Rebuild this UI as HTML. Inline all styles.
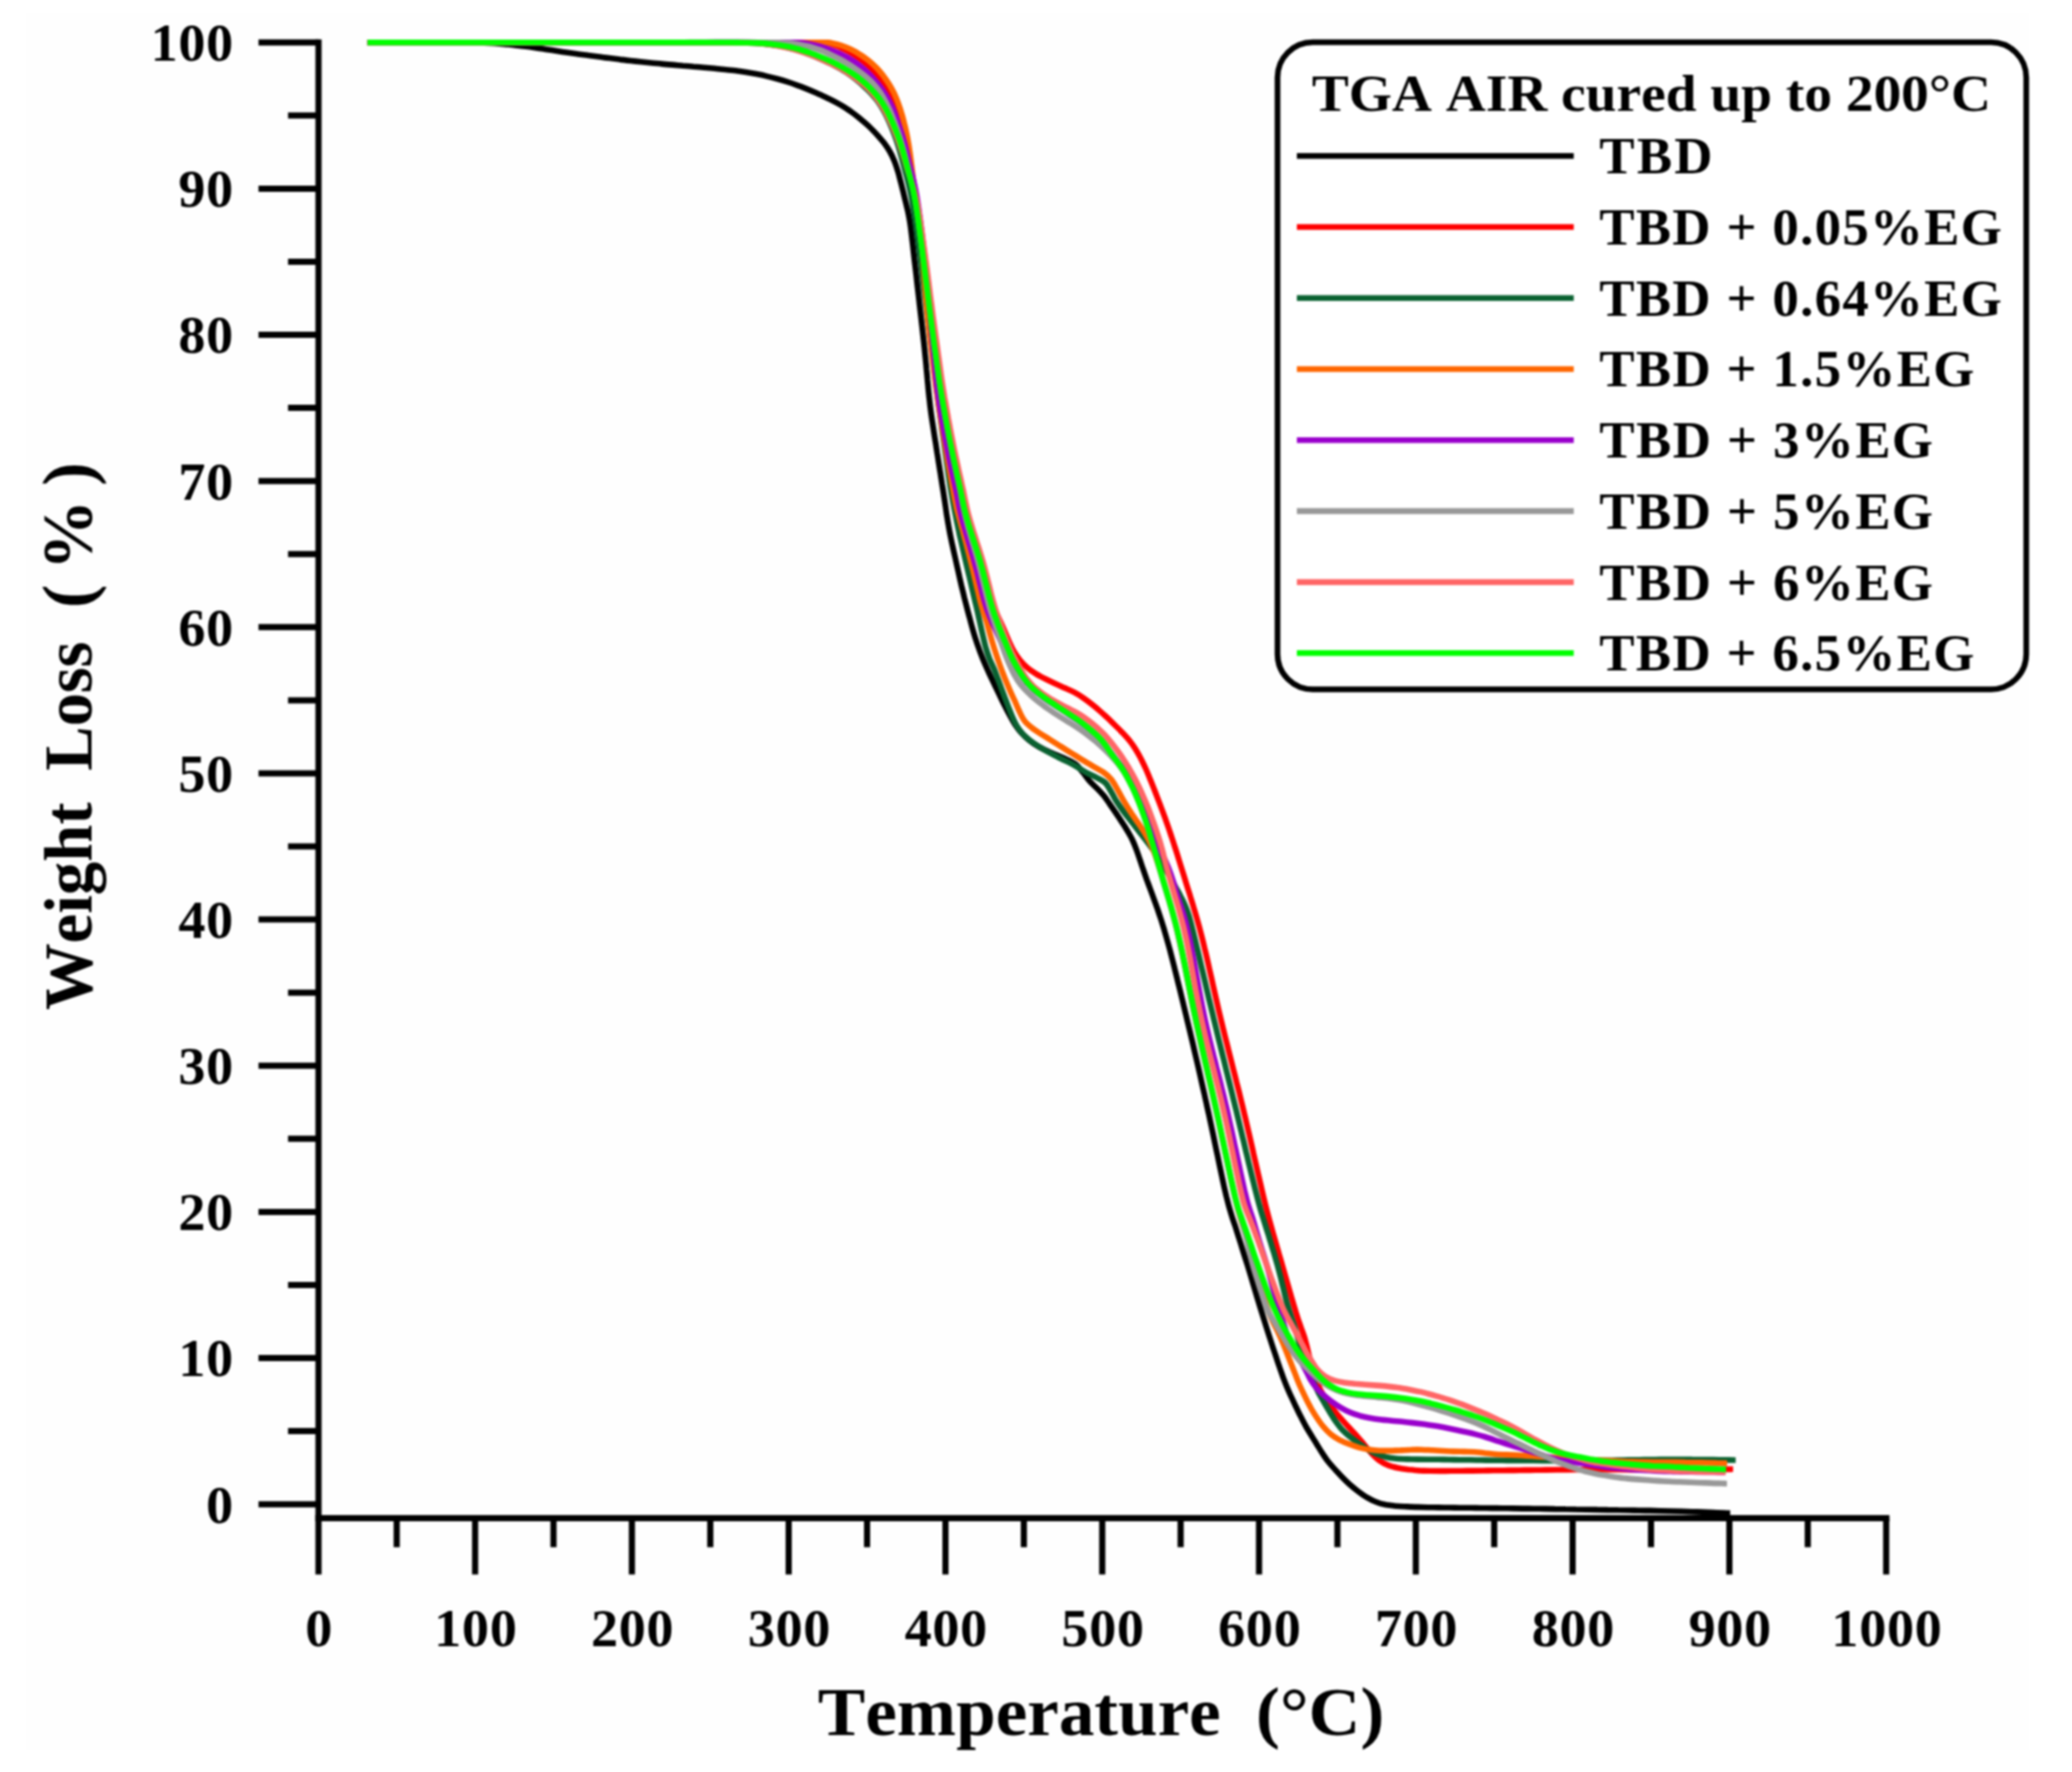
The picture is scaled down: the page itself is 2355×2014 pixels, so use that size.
<!DOCTYPE html>
<html lang="en"><head><meta charset="utf-8"><title>TGA AIR cured up to 200°C</title>
<style>
html,body{margin:0;padding:0;background:#fff;}
body{width:2355px;height:2014px;overflow:hidden;}
svg{display:block;filter:blur(1.1px);}
text{font-family:"Liberation Serif",serif;font-weight:bold;fill:#000;font-kerning:none;}
.tk{font-size:61.5px;letter-spacing:0.8px;}
.lg{font-size:60px;}
.ti{font-size:78px;}
.tp{font-size:80px;}
.ax{stroke:#000;stroke-width:7;fill:none;stroke-linecap:butt;}
.cv{fill:none;stroke-width:6.6;stroke-linecap:butt;stroke-linejoin:round;}
</style></head><body>
<svg width="2355" height="2014" viewBox="0 0 2355 2014" role="img" aria-label="TGA weight loss versus temperature">
<rect width="2355" height="2014" fill="#fff"/>
<rect x="30" y="15" width="2276" height="1974" fill="#fefefe"/>
<g>
<g id="curves">
<path class="cv" stroke="#000000" d="M417.8 48.2C419.8 48.2 425.8 48.2 429.8 48.2C433.8 48.2 437.8 48.2 441.8 48.2C445.8 48.2 449.8 48.2 453.8 48.2C457.8 48.2 461.8 48.2 465.8 48.2C469.8 48.2 473.8 48.2 477.8 48.2C481.8 48.2 485.8 48.2 489.8 48.2C493.8 48.2 497.8 48.2 501.8 48.2C505.8 48.2 509.8 48.2 513.8 48.2C517.8 48.2 521.8 48.2 525.8 48.3C529.8 48.3 533.8 48.3 537.8 48.4C541.8 48.5 545.8 48.5 549.8 48.7C553.8 48.8 557.8 49.0 561.8 49.3C565.8 49.6 569.8 49.9 573.7 50.2C577.7 50.6 581.7 50.9 585.7 51.4C589.7 51.8 593.6 52.2 597.6 52.7C601.6 53.2 605.5 53.8 609.5 54.4C613.5 54.9 617.4 55.6 621.4 56.2C625.3 56.8 629.3 57.4 633.2 58.0C637.2 58.6 641.1 59.2 645.1 59.8C649.0 60.3 653.0 60.9 657.0 61.4C660.9 61.9 664.9 62.5 668.9 63.0C672.8 63.5 676.8 64.0 680.8 64.5C684.7 65.1 688.7 65.6 692.7 66.1C696.6 66.6 700.6 67.1 704.6 67.6C708.5 68.0 712.5 68.5 716.5 69.0C720.5 69.4 724.4 69.9 728.4 70.3C732.4 70.7 736.4 71.1 740.4 71.5C744.3 71.9 748.3 72.2 752.3 72.6C756.3 73.0 760.3 73.3 764.3 73.6C768.2 74.0 772.2 74.3 776.2 74.7C780.2 75.0 784.2 75.3 788.2 75.7C792.2 76.0 796.1 76.3 800.1 76.7C804.1 77.1 808.1 77.4 812.1 77.8C816.1 78.2 820.0 78.5 824.0 79.0C828.0 79.4 832.0 79.8 835.9 80.3C839.9 80.8 843.9 81.4 847.8 82.0C851.8 82.6 855.7 83.3 859.6 84.1C863.6 84.9 867.5 85.7 871.4 86.6C875.3 87.5 879.2 88.5 883.0 89.5C886.9 90.6 890.7 91.7 894.5 92.9C898.3 94.1 902.1 95.4 905.9 96.8C909.6 98.1 913.4 99.6 917.1 101.1C920.8 102.6 924.5 104.2 928.1 105.8C931.8 107.4 935.4 109.1 939.0 110.8C942.6 112.6 946.2 114.3 949.7 116.2C953.3 118.1 956.8 120.0 960.2 122.1C963.5 124.2 966.8 126.6 970.0 128.9C973.2 131.3 976.3 133.9 979.4 136.4C982.4 139.0 985.5 141.6 988.4 144.3C991.3 147.1 994.0 150.0 996.7 152.9C999.4 155.9 1002.1 158.9 1004.5 162.1C1006.9 165.3 1009.2 168.5 1011.2 172.0C1013.2 175.4 1014.9 179.1 1016.4 182.8C1017.9 186.4 1019.1 190.3 1020.3 194.1C1021.5 197.9 1022.4 201.8 1023.4 205.7C1024.5 209.5 1025.4 213.4 1026.4 217.3C1027.3 221.2 1028.2 225.1 1029.2 229.0C1030.1 232.8 1031.1 236.7 1032.0 240.6C1032.8 244.5 1033.6 248.4 1034.2 252.4C1034.9 256.3 1035.3 260.3 1035.8 264.3C1036.3 268.2 1036.7 272.2 1037.2 276.2C1037.6 280.2 1038.1 284.1 1038.5 288.1C1039.0 292.1 1039.4 296.1 1039.9 300.0C1040.4 304.0 1040.8 308.0 1041.3 311.9C1041.7 315.9 1042.2 319.9 1042.6 323.9C1043.1 327.8 1043.5 331.8 1044.0 335.8C1044.4 339.8 1044.9 343.7 1045.3 347.7C1045.8 351.7 1046.2 355.7 1046.7 359.6C1047.2 363.6 1047.6 367.6 1048.1 371.6C1048.5 375.5 1049.0 379.5 1049.4 383.5C1049.9 387.5 1050.3 391.4 1050.7 395.4C1051.1 399.4 1051.5 403.4 1051.9 407.4C1052.3 411.3 1052.7 415.3 1053.0 419.3C1053.4 423.3 1053.8 427.3 1054.1 431.3C1054.5 435.2 1054.9 439.2 1055.2 443.2C1055.6 447.2 1056.0 451.2 1056.5 455.1C1056.9 459.1 1057.4 463.1 1057.9 467.0C1058.4 471.0 1059.0 475.0 1059.6 478.9C1060.2 482.9 1060.8 486.8 1061.4 490.8C1062.0 494.7 1062.6 498.7 1063.3 502.6C1063.9 506.6 1064.5 510.5 1065.1 514.5C1065.8 518.5 1066.4 522.4 1067.0 526.4C1067.6 530.3 1068.2 534.3 1068.9 538.2C1069.5 542.2 1070.1 546.1 1070.7 550.1C1071.4 554.0 1072.0 558.0 1072.6 561.9C1073.2 565.9 1073.8 569.8 1074.4 573.8C1075.0 577.7 1075.5 581.7 1076.1 585.7C1076.8 589.6 1077.4 593.6 1078.1 597.5C1078.8 601.4 1079.5 605.4 1080.3 609.3C1081.1 613.2 1081.9 617.1 1082.8 621.0C1083.6 624.9 1084.5 628.8 1085.4 632.7C1086.2 636.6 1087.1 640.5 1088.0 644.5C1088.9 648.4 1089.8 652.3 1090.6 656.2C1091.5 660.1 1092.4 664.0 1093.3 667.9C1094.3 671.7 1095.2 675.6 1096.1 679.5C1097.1 683.4 1098.1 687.3 1099.1 691.1C1100.1 695.0 1101.1 698.9 1102.2 702.7C1103.2 706.6 1104.2 710.5 1105.3 714.3C1106.4 718.2 1107.5 722.0 1108.7 725.8C1109.9 729.6 1111.2 733.4 1112.6 737.2C1113.9 741.0 1115.4 744.7 1116.9 748.4C1118.4 752.1 1120.0 755.8 1121.6 759.4C1123.2 763.1 1124.9 766.7 1126.6 770.3C1128.3 773.9 1130.0 777.6 1131.8 781.2C1133.5 784.8 1135.2 788.4 1137.0 792.0C1138.7 795.6 1140.5 799.2 1142.3 802.7C1144.1 806.3 1145.9 809.8 1147.9 813.4C1149.8 816.9 1151.6 820.4 1153.8 823.8C1156.0 827.1 1158.4 830.3 1161.1 833.2C1163.7 836.2 1166.7 838.9 1169.8 841.3C1172.9 843.8 1176.3 846.1 1179.7 848.1C1183.1 850.2 1186.7 851.9 1190.3 853.6C1193.9 855.3 1197.6 856.8 1201.3 858.4C1205.0 860.0 1208.8 861.3 1212.4 863.1C1215.9 864.8 1219.7 866.5 1222.7 868.9C1225.8 871.3 1228.1 874.5 1230.6 877.6C1233.2 880.6 1235.2 884.1 1237.8 887.1C1240.4 890.1 1243.5 892.6 1246.3 895.5C1249.1 898.3 1251.9 901.2 1254.4 904.2C1256.9 907.3 1259.1 910.7 1261.4 914.0C1263.7 917.3 1266.0 920.6 1268.2 923.9C1270.4 927.2 1272.7 930.5 1274.8 933.9C1277.0 937.2 1279.2 940.6 1281.2 944.0C1283.2 947.5 1285.3 950.9 1287.0 954.5C1288.7 958.1 1290.2 961.9 1291.6 965.6C1293.0 969.3 1294.2 973.1 1295.5 976.9C1296.8 980.7 1298.0 984.5 1299.4 988.3C1300.7 992.1 1302.0 995.9 1303.3 999.6C1304.7 1003.4 1306.1 1007.1 1307.5 1010.9C1308.9 1014.6 1310.3 1018.4 1311.6 1022.1C1313.0 1025.9 1314.3 1029.7 1315.7 1033.4C1317.0 1037.2 1318.2 1041.0 1319.5 1044.8C1320.7 1048.6 1321.9 1052.4 1323.1 1056.3C1324.2 1060.1 1325.3 1063.9 1326.4 1067.8C1327.5 1071.6 1328.5 1075.5 1329.6 1079.4C1330.6 1083.2 1331.6 1087.1 1332.6 1091.0C1333.6 1094.9 1334.6 1098.7 1335.5 1102.6C1336.5 1106.5 1337.5 1110.4 1338.4 1114.3C1339.4 1118.1 1340.3 1122.0 1341.3 1125.9C1342.2 1129.8 1343.2 1133.7 1344.1 1137.6C1345.0 1141.5 1346.0 1145.4 1346.9 1149.2C1347.8 1153.1 1348.8 1157.0 1349.7 1160.9C1350.7 1164.8 1351.6 1168.7 1352.5 1172.6C1353.4 1176.5 1354.4 1180.4 1355.3 1184.3C1356.2 1188.2 1357.1 1192.1 1358.0 1195.9C1358.9 1199.8 1359.8 1203.7 1360.7 1207.6C1361.6 1211.5 1362.5 1215.4 1363.4 1219.3C1364.3 1223.2 1365.1 1227.1 1366.0 1231.0C1366.9 1234.9 1367.8 1238.8 1368.7 1242.7C1369.5 1246.7 1370.4 1250.6 1371.3 1254.5C1372.1 1258.4 1373.0 1262.3 1373.9 1266.2C1374.7 1270.1 1375.5 1274.0 1376.4 1277.9C1377.2 1281.8 1378.0 1285.7 1378.9 1289.7C1379.7 1293.6 1380.5 1297.5 1381.3 1301.4C1382.1 1305.3 1382.9 1309.2 1383.8 1313.1C1384.6 1317.1 1385.4 1321.0 1386.2 1324.9C1387.0 1328.8 1387.9 1332.7 1388.7 1336.6C1389.5 1340.5 1390.4 1344.5 1391.2 1348.4C1392.1 1352.3 1393.0 1356.2 1393.9 1360.0C1394.9 1363.9 1395.9 1367.8 1396.9 1371.7C1398.0 1375.5 1399.2 1379.3 1400.4 1383.2C1401.6 1387.0 1402.9 1390.7 1404.2 1394.5C1405.4 1398.3 1406.6 1402.2 1407.8 1406.0C1409.1 1409.8 1410.2 1413.6 1411.4 1417.4C1412.6 1421.2 1413.8 1425.0 1415.0 1428.9C1416.2 1432.7 1417.4 1436.5 1418.6 1440.3C1419.8 1444.2 1420.9 1448.0 1422.1 1451.8C1423.2 1455.6 1424.3 1459.5 1425.5 1463.3C1426.6 1467.1 1427.8 1471.0 1428.9 1474.8C1430.1 1478.6 1431.3 1482.5 1432.4 1486.3C1433.6 1490.1 1434.8 1493.9 1436.0 1497.7C1437.2 1501.6 1438.4 1505.4 1439.6 1509.2C1440.8 1513.0 1442.0 1516.8 1443.2 1520.6C1444.4 1524.4 1445.7 1528.2 1446.9 1532.0C1448.2 1535.8 1449.5 1539.6 1450.8 1543.4C1452.0 1547.2 1453.3 1551.0 1454.6 1554.8C1456.0 1558.5 1457.2 1562.3 1458.6 1566.1C1460.0 1569.8 1461.5 1573.6 1463.0 1577.2C1464.6 1580.9 1466.2 1584.6 1467.9 1588.2C1469.6 1591.8 1471.3 1595.4 1473.0 1599.1C1474.8 1602.7 1476.5 1606.3 1478.3 1609.8C1480.1 1613.4 1481.9 1617.0 1483.9 1620.5C1485.8 1624.0 1487.9 1627.4 1490.0 1630.8C1492.0 1634.2 1494.2 1637.6 1496.3 1641.0C1498.4 1644.4 1500.4 1647.9 1502.6 1651.2C1504.8 1654.5 1507.0 1657.9 1509.4 1661.0C1511.9 1664.2 1514.6 1667.1 1517.3 1670.1C1520.0 1673.0 1522.7 1676.0 1525.5 1678.8C1528.3 1681.7 1531.1 1684.5 1534.1 1687.2C1537.1 1689.8 1540.2 1692.4 1543.4 1694.8C1546.6 1697.2 1549.8 1699.6 1553.2 1701.6C1556.6 1703.6 1560.2 1705.6 1563.9 1707.0C1567.5 1708.5 1571.4 1709.5 1575.3 1710.3C1579.2 1711.0 1583.2 1711.3 1587.2 1711.7C1591.2 1712.1 1595.2 1712.2 1599.2 1712.4C1603.2 1712.6 1607.2 1712.8 1611.2 1712.9C1615.2 1713.0 1619.2 1713.1 1623.2 1713.2C1627.2 1713.3 1631.2 1713.3 1635.2 1713.4C1639.2 1713.4 1643.2 1713.5 1647.2 1713.5C1651.2 1713.6 1655.2 1713.6 1659.2 1713.7C1663.2 1713.7 1667.2 1713.8 1671.2 1713.8C1675.2 1713.9 1679.2 1713.9 1683.2 1714.0C1687.2 1714.0 1691.2 1714.1 1695.2 1714.1C1699.2 1714.1 1703.2 1714.2 1707.2 1714.2C1711.2 1714.3 1715.2 1714.3 1719.2 1714.4C1723.2 1714.4 1727.2 1714.5 1731.2 1714.6C1735.2 1714.6 1739.2 1714.7 1743.2 1714.7C1747.2 1714.8 1751.2 1714.8 1755.2 1714.9C1759.2 1714.9 1763.2 1715.0 1767.2 1715.1C1771.2 1715.1 1775.2 1715.2 1779.2 1715.3C1783.2 1715.3 1787.2 1715.4 1791.2 1715.5C1795.2 1715.5 1799.2 1715.6 1803.2 1715.7C1807.2 1715.7 1811.2 1715.8 1815.2 1715.9C1819.2 1715.9 1823.2 1716.0 1827.2 1716.1C1831.2 1716.1 1835.2 1716.2 1839.2 1716.3C1843.2 1716.3 1847.2 1716.4 1851.2 1716.5C1855.2 1716.6 1859.1 1716.6 1863.1 1716.7C1867.1 1716.8 1871.1 1716.9 1875.1 1716.9C1879.1 1717.0 1883.1 1717.1 1887.1 1717.2C1891.1 1717.3 1895.1 1717.4 1899.1 1717.5C1903.1 1717.6 1907.1 1717.7 1911.1 1717.8C1915.1 1717.9 1919.1 1718.1 1923.1 1718.2C1927.1 1718.3 1931.1 1718.5 1935.1 1718.6C1939.1 1718.8 1943.1 1718.9 1947.1 1719.1C1951.1 1719.2 1955.8 1719.4 1959.0 1719.5C1962.2 1719.6 1965.2 1719.8 1966.5 1719.8"/>
<path class="cv" stroke="#ff0000" d="M417.8 48.2C419.8 48.2 425.8 48.2 429.8 48.2C433.8 48.2 437.8 48.2 441.8 48.2C445.8 48.2 449.8 48.2 453.8 48.2C457.8 48.2 461.8 48.2 465.8 48.2C469.8 48.2 473.8 48.2 477.8 48.2C481.8 48.2 485.8 48.2 489.8 48.2C493.8 48.2 497.8 48.2 501.8 48.2C505.8 48.2 509.8 48.2 513.8 48.2C517.8 48.2 521.8 48.2 525.8 48.2C529.8 48.2 533.8 48.2 537.8 48.2C541.8 48.2 545.8 48.2 549.8 48.2C553.8 48.2 557.8 48.2 561.8 48.2C565.8 48.2 569.8 48.2 573.8 48.2C577.8 48.2 581.8 48.2 585.8 48.2C589.8 48.2 593.8 48.2 597.8 48.2C601.8 48.2 605.8 48.2 609.8 48.2C613.8 48.2 617.8 48.2 621.8 48.2C625.8 48.2 629.8 48.2 633.8 48.2C637.8 48.2 641.8 48.2 645.8 48.2C649.8 48.2 653.8 48.2 657.8 48.2C661.8 48.2 665.8 48.2 669.8 48.2C673.8 48.2 677.8 48.2 681.8 48.2C685.8 48.2 689.8 48.2 693.8 48.2C697.8 48.2 701.8 48.2 705.8 48.2C709.8 48.2 713.8 48.2 717.8 48.2C721.8 48.2 725.8 48.2 729.8 48.2C733.8 48.2 737.8 48.2 741.8 48.2C745.8 48.2 749.8 48.2 753.8 48.2C757.8 48.2 761.8 48.2 765.8 48.2C769.8 48.2 773.8 48.2 777.8 48.2C781.8 48.2 785.8 48.2 789.8 48.2C793.8 48.2 797.8 48.2 801.8 48.2C805.8 48.2 809.8 48.2 813.8 48.2C817.8 48.2 821.8 48.2 825.8 48.2C829.8 48.2 833.8 48.2 837.8 48.2C841.8 48.2 845.8 48.2 849.8 48.2C853.8 48.2 857.8 48.2 861.8 48.2C865.8 48.2 869.8 48.2 873.8 48.2C877.8 48.2 881.8 48.2 885.8 48.2C889.8 48.2 893.8 48.2 897.8 48.2C901.8 48.2 905.8 48.2 909.8 48.2C913.8 48.2 917.9 48.2 921.8 48.2C925.7 48.2 930.6 48.2 933.5 48.2C936.3 48.3 937.4 48.1 939.1 48.4C940.8 48.7 941.2 48.9 943.8 49.7C946.4 50.6 951.0 52.0 954.6 53.6C958.2 55.1 961.8 57.0 965.3 59.0C968.8 61.0 972.2 63.1 975.4 65.4C978.7 67.7 981.9 70.1 984.9 72.7C987.9 75.3 990.8 78.1 993.5 81.1C996.2 84.0 998.7 87.2 1001.0 90.4C1003.4 93.6 1005.6 97.0 1007.6 100.4C1009.6 103.9 1011.4 107.4 1013.1 111.0C1014.8 114.7 1016.3 118.4 1017.7 122.1C1019.1 125.9 1020.3 129.7 1021.5 133.5C1022.7 137.3 1023.8 141.1 1024.9 145.0C1026.0 148.8 1027.0 152.7 1028.0 156.6C1028.9 160.5 1029.8 164.4 1030.6 168.3C1031.4 172.2 1032.2 176.1 1033.0 180.1C1033.8 184.0 1034.5 187.9 1035.3 191.8C1036.1 195.7 1037.0 199.7 1037.7 203.6C1038.5 207.5 1039.2 211.4 1039.9 215.4C1040.6 219.3 1041.3 223.3 1041.9 227.2C1042.6 231.2 1043.2 235.1 1043.8 239.1C1044.4 243.0 1045.0 247.0 1045.6 250.9C1046.2 254.9 1046.8 258.8 1047.3 262.8C1047.8 266.8 1048.4 270.7 1048.9 274.7C1049.4 278.7 1050.0 282.6 1050.5 286.6C1051.0 290.6 1051.5 294.5 1052.0 298.5C1052.5 302.5 1053.0 306.4 1053.5 310.4C1054.0 314.4 1054.5 318.3 1055.0 322.3C1055.5 326.3 1055.9 330.3 1056.4 334.2C1056.9 338.2 1057.4 342.2 1057.9 346.1C1058.4 350.1 1058.9 354.1 1059.4 358.0C1059.9 362.0 1060.5 366.0 1061.0 369.9C1061.5 373.9 1062.0 377.9 1062.5 381.8C1063.1 385.8 1063.6 389.8 1064.1 393.7C1064.7 397.7 1065.2 401.7 1065.8 405.6C1066.3 409.6 1066.9 413.5 1067.4 417.5C1068.0 421.5 1068.5 425.4 1069.1 429.4C1069.7 433.3 1070.3 437.3 1070.9 441.2C1071.5 445.2 1072.2 449.1 1072.8 453.1C1073.5 457.0 1074.2 461.0 1074.9 464.9C1075.6 468.9 1076.3 472.8 1077.0 476.7C1077.8 480.7 1078.5 484.6 1079.2 488.5C1080.0 492.4 1080.7 496.4 1081.5 500.3C1082.3 504.2 1083.1 508.1 1083.9 512.1C1084.7 516.0 1085.5 519.9 1086.3 523.8C1087.2 527.7 1088.0 531.6 1088.9 535.5C1089.8 539.4 1090.7 543.3 1091.5 547.2C1092.4 551.1 1093.3 555.0 1094.1 559.0C1094.9 562.9 1095.6 566.8 1096.5 570.7C1097.3 574.6 1098.1 578.6 1099.1 582.4C1100.0 586.3 1101.2 590.1 1102.3 594.0C1103.4 597.8 1104.6 601.6 1105.8 605.5C1107.0 609.3 1108.2 613.1 1109.5 616.9C1110.7 620.7 1111.9 624.5 1113.1 628.3C1114.3 632.1 1115.5 636.0 1116.6 639.8C1117.7 643.6 1118.7 647.5 1119.8 651.4C1120.8 655.2 1121.8 659.1 1122.8 663.0C1123.8 666.9 1124.8 670.7 1125.8 674.6C1126.8 678.5 1127.8 682.4 1129.0 686.2C1130.2 690.0 1131.4 693.8 1132.9 697.5C1134.4 701.2 1136.3 704.7 1137.9 708.4C1139.6 712.0 1141.1 715.7 1142.7 719.4C1144.3 723.0 1145.7 726.8 1147.4 730.4C1149.1 734.0 1150.7 737.7 1152.8 741.1C1154.8 744.5 1157.1 747.8 1159.7 750.8C1162.2 753.9 1165.1 756.8 1168.1 759.3C1171.1 761.9 1174.5 764.0 1177.9 766.1C1181.3 768.2 1184.9 770.0 1188.5 771.8C1192.0 773.6 1195.6 775.3 1199.3 777.0C1202.9 778.7 1206.6 780.2 1210.2 781.9C1213.9 783.5 1217.6 785.0 1221.1 786.9C1224.6 788.8 1228.0 790.9 1231.3 793.2C1234.6 795.4 1237.8 797.9 1240.9 800.4C1244.0 802.8 1247.1 805.4 1250.1 808.1C1253.1 810.7 1256.0 813.4 1259.0 816.1C1261.9 818.9 1264.7 821.7 1267.5 824.5C1270.4 827.3 1273.3 830.1 1276.0 833.0C1278.7 835.9 1281.5 838.8 1284.0 842.0C1286.5 845.1 1288.7 848.4 1290.8 851.8C1292.9 855.2 1294.8 858.7 1296.7 862.2C1298.5 865.8 1300.3 869.4 1301.9 873.0C1303.6 876.7 1305.1 880.4 1306.6 884.1C1308.2 887.8 1309.6 891.5 1311.1 895.2C1312.5 898.9 1314.0 902.7 1315.4 906.4C1316.9 910.1 1318.3 913.9 1319.7 917.6C1321.1 921.3 1322.5 925.1 1323.9 928.9C1325.2 932.6 1326.6 936.4 1327.9 940.2C1329.2 943.9 1330.4 947.7 1331.7 951.5C1333.0 955.3 1334.2 959.1 1335.4 962.9C1336.7 966.7 1337.9 970.6 1339.1 974.4C1340.3 978.2 1341.4 982.0 1342.6 985.8C1343.8 989.7 1345.0 993.5 1346.2 997.3C1347.3 1001.1 1348.5 1004.9 1349.7 1008.8C1350.9 1012.6 1352.2 1016.4 1353.3 1020.2C1354.5 1024.0 1355.7 1027.9 1356.8 1031.7C1358.0 1035.5 1359.1 1039.4 1360.2 1043.2C1361.3 1047.1 1362.4 1050.9 1363.4 1054.8C1364.4 1058.6 1365.4 1062.5 1366.4 1066.4C1367.4 1070.3 1368.3 1074.2 1369.2 1078.1C1370.2 1081.9 1371.1 1085.8 1372.0 1089.7C1372.9 1093.6 1373.7 1097.5 1374.6 1101.4C1375.5 1105.3 1376.4 1109.2 1377.3 1113.1C1378.1 1117.0 1379.0 1121.0 1379.9 1124.9C1380.8 1128.8 1381.7 1132.7 1382.5 1136.6C1383.4 1140.5 1384.3 1144.4 1385.2 1148.3C1386.1 1152.1 1387.1 1156.0 1388.0 1159.9C1388.9 1163.8 1389.9 1167.7 1390.8 1171.6C1391.8 1175.5 1392.7 1179.4 1393.7 1183.2C1394.7 1187.1 1395.7 1191.0 1396.6 1194.9C1397.6 1198.8 1398.6 1202.6 1399.6 1206.5C1400.6 1210.4 1401.5 1214.3 1402.5 1218.1C1403.5 1222.0 1404.5 1225.9 1405.4 1229.8C1406.4 1233.7 1407.4 1237.5 1408.4 1241.4C1409.3 1245.3 1410.3 1249.2 1411.2 1253.1C1412.2 1257.0 1413.1 1260.9 1414.0 1264.7C1415.0 1268.6 1415.9 1272.5 1416.8 1276.4C1417.7 1280.3 1418.6 1284.2 1419.5 1288.1C1420.4 1292.0 1421.3 1295.9 1422.2 1299.8C1423.1 1303.7 1424.0 1307.6 1424.8 1311.5C1425.7 1315.4 1426.6 1319.3 1427.5 1323.2C1428.4 1327.1 1429.3 1331.0 1430.2 1334.9C1431.1 1338.8 1432.0 1342.7 1432.9 1346.6C1433.8 1350.5 1434.7 1354.4 1435.6 1358.3C1436.5 1362.2 1437.5 1366.1 1438.4 1369.9C1439.4 1373.8 1440.4 1377.7 1441.4 1381.6C1442.4 1385.4 1443.5 1389.3 1444.6 1393.1C1445.7 1397.0 1446.7 1400.9 1447.8 1404.7C1448.9 1408.6 1450.0 1412.4 1451.1 1416.2C1452.2 1420.1 1453.3 1423.9 1454.4 1427.8C1455.6 1431.6 1456.7 1435.4 1457.8 1439.3C1458.9 1443.1 1460.0 1447.0 1461.1 1450.8C1462.2 1454.7 1463.3 1458.5 1464.4 1462.4C1465.5 1466.2 1466.6 1470.0 1467.7 1473.9C1468.8 1477.7 1469.9 1481.6 1471.1 1485.4C1472.2 1489.3 1473.3 1493.1 1474.6 1496.9C1475.8 1500.7 1477.2 1504.4 1478.5 1508.2C1479.8 1512.0 1481.3 1515.7 1482.5 1519.5C1483.7 1523.3 1484.6 1527.2 1485.6 1531.1C1486.6 1535.0 1487.3 1538.9 1488.4 1542.8C1489.5 1546.6 1490.8 1550.4 1492.1 1554.2C1493.3 1558.0 1494.7 1561.7 1495.9 1565.5C1497.2 1569.3 1497.9 1573.3 1499.5 1576.9C1501.0 1580.5 1503.1 1583.9 1505.2 1587.2C1507.3 1590.6 1509.6 1593.9 1511.9 1597.1C1514.2 1600.3 1516.6 1603.5 1519.2 1606.6C1521.7 1609.7 1524.4 1612.6 1527.1 1615.6C1529.7 1618.6 1532.5 1621.5 1535.2 1624.4C1537.9 1627.4 1540.7 1630.3 1543.3 1633.3C1545.9 1636.3 1548.4 1639.4 1551.0 1642.5C1553.5 1645.6 1556.0 1648.8 1558.7 1651.6C1561.5 1654.5 1564.3 1657.4 1567.5 1659.7C1570.7 1662.0 1574.2 1663.9 1577.9 1665.4C1581.5 1666.9 1585.5 1667.7 1589.4 1668.5C1593.3 1669.4 1597.3 1669.8 1601.2 1670.3C1605.2 1670.7 1609.2 1671.1 1613.2 1671.4C1617.2 1671.6 1621.2 1671.7 1625.2 1671.8C1629.2 1671.9 1633.2 1671.9 1637.2 1671.9C1641.2 1671.9 1645.2 1671.8 1649.2 1671.8C1653.2 1671.8 1657.2 1671.7 1661.2 1671.7C1665.2 1671.7 1669.2 1671.6 1673.2 1671.6C1677.2 1671.5 1681.2 1671.5 1685.2 1671.5C1689.2 1671.4 1693.2 1671.4 1697.2 1671.3C1701.2 1671.3 1705.2 1671.2 1709.2 1671.2C1713.2 1671.2 1717.2 1671.1 1721.2 1671.1C1725.2 1671.0 1729.2 1671.0 1733.2 1670.9C1737.2 1670.9 1741.2 1670.8 1745.2 1670.8C1749.2 1670.7 1753.2 1670.7 1757.2 1670.6C1761.2 1670.6 1765.2 1670.6 1769.2 1670.5C1773.2 1670.5 1777.2 1670.4 1781.2 1670.4C1785.2 1670.4 1789.2 1670.4 1793.2 1670.3C1797.2 1670.3 1801.2 1670.3 1805.2 1670.3C1809.2 1670.3 1813.2 1670.3 1817.2 1670.3C1821.2 1670.3 1825.2 1670.3 1829.2 1670.3C1833.2 1670.3 1837.2 1670.3 1841.2 1670.3C1845.2 1670.4 1849.2 1670.4 1853.2 1670.4C1857.2 1670.4 1861.2 1670.4 1865.2 1670.4C1869.2 1670.5 1873.2 1670.5 1877.2 1670.5C1881.2 1670.5 1885.2 1670.5 1889.2 1670.5C1893.2 1670.5 1897.2 1670.5 1901.2 1670.5C1905.2 1670.5 1909.2 1670.5 1913.2 1670.4C1917.2 1670.4 1921.2 1670.4 1925.2 1670.3C1929.2 1670.3 1933.2 1670.3 1937.2 1670.2C1941.2 1670.2 1945.2 1670.1 1949.2 1670.1C1953.1 1670.0 1957.6 1670.0 1961.0 1669.9C1964.5 1669.9 1968.3 1669.8 1969.8 1669.8"/>
<path class="cv" stroke="#0a6231" d="M417.8 48.2C419.8 48.2 425.8 48.2 429.8 48.2C433.8 48.2 437.8 48.2 441.8 48.2C445.8 48.2 449.8 48.2 453.8 48.2C457.8 48.2 461.8 48.2 465.8 48.2C469.8 48.2 473.8 48.2 477.8 48.2C481.8 48.2 485.8 48.2 489.8 48.2C493.8 48.2 497.8 48.2 501.8 48.2C505.8 48.2 509.8 48.2 513.8 48.2C517.8 48.2 521.8 48.2 525.8 48.2C529.8 48.2 533.8 48.2 537.8 48.2C541.8 48.2 545.8 48.2 549.8 48.2C553.8 48.2 557.8 48.2 561.8 48.2C565.8 48.2 569.8 48.2 573.8 48.2C577.8 48.2 581.8 48.2 585.8 48.2C589.8 48.2 593.8 48.2 597.8 48.2C601.8 48.2 605.8 48.2 609.8 48.2C613.8 48.2 617.8 48.2 621.8 48.2C625.8 48.2 629.8 48.2 633.8 48.2C637.8 48.2 641.8 48.2 645.8 48.2C649.8 48.2 653.8 48.2 657.8 48.2C661.8 48.2 665.8 48.2 669.8 48.2C673.8 48.2 677.8 48.2 681.8 48.2C685.8 48.2 689.8 48.2 693.8 48.2C697.8 48.2 701.8 48.2 705.8 48.2C709.8 48.2 713.8 48.2 717.8 48.2C721.8 48.2 725.8 48.2 729.8 48.2C733.8 48.2 737.8 48.2 741.8 48.2C745.8 48.2 749.8 48.2 753.8 48.2C757.8 48.2 761.8 48.2 765.8 48.2C769.8 48.2 773.8 48.2 777.8 48.2C781.8 48.2 785.8 48.2 789.8 48.2C793.8 48.2 797.8 48.2 801.8 48.2C805.8 48.2 809.8 48.2 813.8 48.2C817.8 48.2 821.8 48.3 825.8 48.3C829.8 48.3 833.8 48.4 837.8 48.4C841.8 48.5 845.8 48.5 849.8 48.7C853.8 48.8 857.8 48.9 861.8 49.2C865.8 49.5 869.7 49.9 873.7 50.4C877.7 50.9 881.7 51.4 885.6 52.1C889.5 52.8 893.4 53.7 897.3 54.7C901.2 55.6 905.0 56.7 908.8 57.9C912.6 59.1 916.4 60.5 920.2 61.9C923.9 63.3 927.6 64.8 931.3 66.4C934.9 68.0 938.6 69.7 942.2 71.4C945.8 73.2 949.3 75.0 952.8 76.9C956.3 78.9 959.8 80.9 963.1 83.1C966.4 85.3 969.7 87.7 972.8 90.2C975.9 92.7 978.9 95.3 981.8 98.0C984.8 100.7 987.7 103.5 990.4 106.4C993.1 109.4 995.7 112.4 998.0 115.6C1000.3 118.9 1002.4 122.3 1004.3 125.8C1006.3 129.3 1008.0 132.9 1009.7 136.5C1011.3 140.2 1012.9 143.9 1014.4 147.6C1015.9 151.3 1017.3 155.0 1018.6 158.8C1019.9 162.6 1021.1 166.4 1022.3 170.2C1023.4 174.1 1024.5 177.9 1025.5 181.8C1026.6 185.6 1027.6 189.5 1028.6 193.4C1029.6 197.2 1030.7 201.1 1031.7 205.0C1032.7 208.8 1033.6 212.7 1034.5 216.6C1035.4 220.5 1036.1 224.5 1036.8 228.4C1037.5 232.3 1038.1 236.3 1038.7 240.2C1039.3 244.2 1039.8 248.2 1040.4 252.1C1040.9 256.1 1041.5 260.1 1042.0 264.0C1042.5 268.0 1043.0 272.0 1043.6 275.9C1044.1 279.9 1044.6 283.8 1045.1 287.8C1045.6 291.8 1046.2 295.7 1046.7 299.7C1047.2 303.7 1047.7 307.7 1048.2 311.6C1048.7 315.6 1049.1 319.6 1049.6 323.5C1050.1 327.5 1050.6 331.5 1051.1 335.4C1051.6 339.4 1052.1 343.4 1052.6 347.4C1053.1 351.3 1053.6 355.3 1054.1 359.3C1054.6 363.2 1055.1 367.2 1055.6 371.2C1056.1 375.1 1056.6 379.1 1057.1 383.1C1057.6 387.0 1058.1 391.0 1058.6 395.0C1059.1 398.9 1059.6 402.9 1060.1 406.9C1060.6 410.9 1061.1 414.8 1061.5 418.8C1062.0 422.8 1062.5 426.7 1063.0 430.7C1063.5 434.7 1064.0 438.6 1064.5 442.6C1065.1 446.6 1065.6 450.5 1066.1 454.5C1066.6 458.5 1067.2 462.4 1067.7 466.4C1068.3 470.4 1068.8 474.3 1069.4 478.3C1069.9 482.2 1070.5 486.2 1071.0 490.2C1071.6 494.1 1072.1 498.1 1072.7 502.0C1073.3 506.0 1073.8 510.0 1074.4 513.9C1075.0 517.9 1075.5 521.8 1076.1 525.8C1076.7 529.8 1077.3 533.7 1077.8 537.7C1078.4 541.6 1079.0 545.6 1079.6 549.5C1080.2 553.5 1080.9 557.4 1081.6 561.4C1082.2 565.3 1083.0 569.3 1083.7 573.2C1084.4 577.1 1085.2 581.1 1086.0 585.0C1086.7 588.9 1087.5 592.8 1088.3 596.7C1089.2 600.7 1090.0 604.6 1090.8 608.5C1091.7 612.4 1092.6 616.3 1093.5 620.2C1094.4 624.1 1095.3 628.0 1096.2 631.9C1097.1 635.8 1098.0 639.7 1098.9 643.6C1099.8 647.5 1100.7 651.3 1101.7 655.2C1102.6 659.1 1103.5 663.0 1104.4 666.9C1105.3 670.8 1106.2 674.7 1107.1 678.6C1108.0 682.5 1109.0 686.4 1109.9 690.3C1110.8 694.2 1111.6 698.1 1112.5 702.0C1113.4 705.9 1114.2 709.8 1115.1 713.7C1116.0 717.6 1116.8 721.5 1117.8 725.4C1118.7 729.3 1119.6 733.2 1120.7 737.0C1121.8 740.9 1123.1 744.7 1124.5 748.4C1126.0 752.1 1127.8 755.7 1129.4 759.3C1130.9 763.0 1132.3 766.8 1133.7 770.5C1135.2 774.2 1136.5 778.0 1137.9 781.8C1139.3 785.5 1140.7 789.3 1142.1 793.0C1143.6 796.7 1145.0 800.5 1146.4 804.2C1147.9 807.9 1149.3 811.7 1150.9 815.3C1152.5 819.0 1154.1 822.7 1156.3 826.0C1158.4 829.3 1160.9 832.5 1163.6 835.4C1166.4 838.2 1169.5 840.8 1172.7 843.2C1175.8 845.6 1179.3 847.6 1182.7 849.7C1186.1 851.8 1189.6 853.8 1193.1 855.7C1196.6 857.6 1200.1 859.5 1203.7 861.3C1207.3 863.0 1211.0 864.6 1214.6 866.4C1218.1 868.2 1221.6 870.2 1225.0 872.2C1228.5 874.2 1231.8 876.5 1235.3 878.4C1238.8 880.3 1242.6 881.7 1246.1 883.6C1249.5 885.5 1253.4 886.9 1256.1 889.5C1258.9 892.1 1260.5 895.7 1262.5 899.1C1264.5 902.4 1266.1 906.2 1268.2 909.6C1270.3 913.0 1272.7 916.2 1275.0 919.5C1277.3 922.7 1279.8 925.9 1282.2 929.1C1284.6 932.2 1287.1 935.4 1289.6 938.5C1292.0 941.7 1294.5 944.8 1297.0 948.0C1299.4 951.1 1301.9 954.3 1304.3 957.5C1306.7 960.7 1309.1 963.8 1311.5 967.1C1313.8 970.4 1316.0 973.7 1318.2 977.0C1320.3 980.4 1322.3 983.9 1324.4 987.3C1326.4 990.8 1328.3 994.3 1330.3 997.8C1332.3 1001.2 1334.3 1004.7 1336.2 1008.2C1338.1 1011.7 1340.1 1015.2 1341.9 1018.7C1343.7 1022.3 1345.6 1025.9 1347.1 1029.5C1348.7 1033.2 1350.1 1037.0 1351.3 1040.8C1352.5 1044.6 1353.4 1048.5 1354.4 1052.3C1355.4 1056.2 1356.3 1060.1 1357.3 1064.0C1358.2 1067.9 1359.2 1071.8 1360.1 1075.7C1361.0 1079.5 1362.0 1083.4 1362.9 1087.3C1363.8 1091.2 1364.7 1095.1 1365.6 1099.0C1366.5 1102.9 1367.5 1106.8 1368.4 1110.7C1369.3 1114.6 1370.2 1118.5 1371.1 1122.4C1372.0 1126.3 1372.9 1130.2 1373.8 1134.1C1374.8 1138.0 1375.7 1141.9 1376.6 1145.7C1377.5 1149.6 1378.5 1153.5 1379.4 1157.4C1380.3 1161.3 1381.3 1165.2 1382.2 1169.1C1383.1 1173.0 1384.1 1176.9 1385.0 1180.7C1386.0 1184.6 1386.9 1188.5 1387.9 1192.4C1388.8 1196.3 1389.8 1200.2 1390.8 1204.0C1391.7 1207.9 1392.7 1211.8 1393.6 1215.7C1394.6 1219.6 1395.5 1223.5 1396.5 1227.4C1397.5 1231.2 1398.4 1235.1 1399.4 1239.0C1400.3 1242.9 1401.3 1246.8 1402.2 1250.7C1403.2 1254.5 1404.1 1258.4 1405.1 1262.3C1406.0 1266.2 1406.9 1270.1 1407.9 1274.0C1408.8 1277.9 1409.7 1281.8 1410.7 1285.7C1411.6 1289.5 1412.5 1293.4 1413.5 1297.3C1414.4 1301.2 1415.3 1305.1 1416.2 1309.0C1417.2 1312.9 1418.1 1316.8 1419.0 1320.7C1420.0 1324.6 1420.9 1328.4 1421.8 1332.3C1422.8 1336.2 1423.7 1340.1 1424.7 1344.0C1425.6 1347.9 1426.6 1351.8 1427.6 1355.6C1428.6 1359.5 1429.6 1363.4 1430.6 1367.2C1431.7 1371.1 1432.8 1374.9 1433.9 1378.8C1435.1 1382.6 1436.3 1386.4 1437.5 1390.3C1438.6 1394.1 1439.9 1397.9 1441.1 1401.7C1442.2 1405.5 1443.4 1409.3 1444.6 1413.2C1445.7 1417.0 1446.9 1420.8 1448.1 1424.6C1449.2 1428.5 1450.3 1432.3 1451.4 1436.2C1452.5 1440.0 1453.5 1443.9 1454.5 1447.8C1455.5 1451.6 1456.5 1455.5 1457.4 1459.4C1458.4 1463.3 1459.3 1467.2 1460.3 1471.1C1461.2 1474.9 1462.1 1478.9 1463.2 1482.7C1464.3 1486.5 1465.5 1490.3 1466.7 1494.1C1467.9 1497.9 1469.4 1501.6 1470.6 1505.4C1471.8 1509.2 1472.8 1513.1 1473.9 1516.9C1475.1 1520.8 1476.2 1524.6 1477.3 1528.4C1478.5 1532.3 1479.7 1536.1 1481.0 1539.9C1482.3 1543.7 1483.7 1547.4 1485.1 1551.2C1486.5 1554.9 1487.9 1558.6 1489.4 1562.3C1490.9 1566.1 1492.4 1569.8 1494.1 1573.4C1495.7 1577.0 1497.5 1580.6 1499.3 1584.2C1501.2 1587.7 1503.3 1591.1 1505.3 1594.6C1507.3 1598.1 1509.3 1601.5 1511.4 1604.9C1513.5 1608.3 1515.5 1611.8 1517.8 1615.1C1520.1 1618.3 1522.5 1621.6 1525.1 1624.5C1527.8 1627.4 1530.8 1630.1 1533.9 1632.6C1536.9 1635.2 1540.3 1637.4 1543.5 1639.8C1546.7 1642.1 1549.9 1644.6 1553.3 1646.7C1556.7 1648.7 1560.2 1650.6 1563.9 1652.2C1567.6 1653.7 1571.4 1655.0 1575.2 1656.0C1579.1 1656.9 1583.1 1657.4 1587.0 1657.8C1591.0 1658.2 1595.0 1658.3 1599.0 1658.4C1603.0 1658.5 1607.0 1658.5 1611.0 1658.6C1615.0 1658.6 1619.0 1658.6 1623.0 1658.7C1627.0 1658.7 1631.0 1658.8 1635.0 1658.8C1639.0 1658.9 1643.0 1658.9 1647.0 1659.0C1651.0 1659.1 1655.0 1659.1 1659.0 1659.2C1663.0 1659.2 1667.0 1659.3 1671.0 1659.3C1675.0 1659.4 1679.0 1659.5 1683.0 1659.5C1687.0 1659.6 1691.0 1659.6 1695.0 1659.7C1699.0 1659.7 1703.0 1659.7 1707.0 1659.8C1711.0 1659.8 1715.0 1659.9 1719.0 1659.9C1723.0 1659.9 1727.0 1659.9 1731.0 1660.0C1735.0 1660.0 1739.0 1660.0 1743.0 1660.0C1747.0 1660.1 1751.0 1660.1 1755.0 1660.1C1759.0 1660.1 1763.0 1660.1 1767.0 1660.1C1771.0 1660.1 1775.0 1660.1 1779.0 1660.1C1783.0 1660.1 1787.0 1660.1 1791.0 1660.0C1795.0 1660.0 1799.0 1660.0 1803.0 1660.0C1807.0 1659.9 1811.0 1659.9 1815.0 1659.9C1819.0 1659.8 1823.0 1659.8 1827.0 1659.7C1831.0 1659.7 1835.0 1659.6 1839.0 1659.5C1843.0 1659.5 1847.0 1659.4 1851.0 1659.4C1855.0 1659.3 1859.0 1659.2 1863.0 1659.2C1867.0 1659.1 1871.0 1659.1 1875.0 1659.0C1879.0 1659.0 1883.0 1658.9 1887.0 1658.9C1891.0 1658.9 1895.0 1658.8 1899.0 1658.8C1903.0 1658.8 1907.0 1658.8 1911.0 1658.8C1915.0 1658.8 1919.0 1658.8 1923.0 1658.9C1927.0 1658.9 1931.0 1658.9 1935.0 1659.0C1939.0 1659.0 1943.0 1659.1 1947.0 1659.1C1951.0 1659.2 1955.0 1659.3 1959.0 1659.3C1963.0 1659.4 1968.5 1659.4 1970.8 1659.5C1973.1 1659.5 1972.4 1659.5 1972.7 1659.5"/>
<path class="cv" stroke="#ff6600" d="M417.8 48.2C419.8 48.2 425.8 48.2 429.8 48.2C433.8 48.2 437.8 48.2 441.8 48.2C445.8 48.2 449.8 48.2 453.8 48.2C457.8 48.2 461.8 48.2 465.8 48.2C469.8 48.2 473.8 48.2 477.8 48.2C481.8 48.2 485.8 48.2 489.8 48.2C493.8 48.2 497.8 48.2 501.8 48.2C505.8 48.2 509.8 48.2 513.8 48.2C517.8 48.2 521.8 48.2 525.8 48.2C529.8 48.2 533.8 48.2 537.8 48.2C541.8 48.2 545.8 48.2 549.8 48.2C553.8 48.2 557.8 48.2 561.8 48.2C565.8 48.2 569.8 48.2 573.8 48.2C577.8 48.2 581.8 48.2 585.8 48.2C589.8 48.2 593.8 48.2 597.8 48.2C601.8 48.2 605.8 48.2 609.8 48.2C613.8 48.2 617.8 48.2 621.8 48.2C625.8 48.2 629.8 48.2 633.8 48.2C637.8 48.2 641.8 48.2 645.8 48.2C649.8 48.2 653.8 48.2 657.8 48.2C661.8 48.2 665.8 48.2 669.8 48.2C673.8 48.2 677.8 48.2 681.8 48.2C685.8 48.2 689.8 48.2 693.8 48.2C697.8 48.2 701.8 48.2 705.8 48.2C709.8 48.2 713.8 48.2 717.8 48.2C721.8 48.2 725.8 48.2 729.8 48.2C733.8 48.2 737.8 48.2 741.8 48.2C745.8 48.2 749.8 48.2 753.8 48.2C757.8 48.2 761.8 48.2 765.8 48.2C769.8 48.2 773.8 48.2 777.8 48.2C781.8 48.2 785.8 48.2 789.8 48.2C793.8 48.2 797.8 48.2 801.8 48.2C805.8 48.2 809.8 48.2 813.8 48.2C817.8 48.2 821.8 48.2 825.8 48.2C829.8 48.2 833.8 48.2 837.8 48.2C841.8 48.2 845.8 48.2 849.8 48.2C853.8 48.2 857.8 48.2 861.8 48.2C865.8 48.2 869.8 48.2 873.8 48.2C877.8 48.2 881.8 48.2 885.8 48.2C889.8 48.2 893.8 48.2 897.8 48.2C901.8 48.2 905.8 48.2 909.8 48.2C913.8 48.2 917.8 48.2 921.8 48.2C925.8 48.2 930.3 48.2 933.7 48.2C937.1 48.2 940.3 48.1 942.2 48.3C944.2 48.4 943.3 48.4 945.5 49.0C947.8 49.5 952.2 50.4 955.8 51.6C959.3 52.8 963.3 54.3 966.9 56.0C970.5 57.7 974.0 59.7 977.3 61.9C980.7 64.0 984.0 66.3 987.1 68.8C990.2 71.3 993.2 74.0 996.0 76.8C998.7 79.7 1001.3 82.8 1003.8 85.9C1006.2 89.1 1008.5 92.4 1010.6 95.7C1012.7 99.1 1014.6 102.7 1016.4 106.3C1018.1 109.9 1019.6 113.6 1020.9 117.3C1022.3 121.1 1023.6 124.9 1024.7 128.7C1025.9 132.5 1026.9 136.4 1027.8 140.3C1028.8 144.2 1029.7 148.1 1030.5 152.0C1031.3 155.9 1032.0 159.9 1032.7 163.8C1033.3 167.7 1033.9 171.7 1034.5 175.7C1035.0 179.6 1035.5 183.6 1036.0 187.6C1036.5 191.5 1036.9 195.5 1037.4 199.5C1037.9 203.4 1038.4 207.4 1039.0 211.4C1039.6 215.3 1040.3 219.3 1041.0 223.2C1041.7 227.1 1042.5 231.1 1043.2 235.0C1043.8 238.9 1044.5 242.9 1045.0 246.8C1045.6 250.8 1046.0 254.8 1046.4 258.8C1046.8 262.8 1047.1 266.7 1047.4 270.7C1047.7 274.7 1048.0 278.7 1048.2 282.7C1048.5 286.7 1048.8 290.7 1049.1 294.7C1049.4 298.7 1049.7 302.6 1050.0 306.6C1050.3 310.6 1050.6 314.6 1050.9 318.6C1051.2 322.6 1051.5 326.6 1051.8 330.6C1052.1 334.6 1052.4 338.5 1052.7 342.5C1053.1 346.5 1053.5 350.5 1053.9 354.5C1054.2 358.5 1054.7 362.4 1055.1 366.4C1055.5 370.4 1056.0 374.4 1056.4 378.3C1056.9 382.3 1057.4 386.3 1057.8 390.3C1058.3 394.2 1058.8 398.2 1059.3 402.2C1059.7 406.1 1060.2 410.1 1060.7 414.1C1061.1 418.1 1061.6 422.0 1062.1 426.0C1062.6 430.0 1063.1 433.9 1063.6 437.9C1064.2 441.9 1064.7 445.8 1065.3 449.8C1065.9 453.7 1066.4 457.7 1067.0 461.7C1067.6 465.6 1068.3 469.6 1068.9 473.5C1069.5 477.5 1070.1 481.4 1070.8 485.4C1071.4 489.3 1072.1 493.3 1072.7 497.2C1073.4 501.2 1074.0 505.1 1074.7 509.0C1075.4 513.0 1076.0 516.9 1076.7 520.9C1077.4 524.8 1078.1 528.7 1078.8 532.7C1079.6 536.6 1080.3 540.6 1081.0 544.5C1081.7 548.4 1082.5 552.4 1083.2 556.3C1083.9 560.2 1084.6 564.2 1085.4 568.1C1086.2 572.0 1087.0 575.9 1087.9 579.8C1088.9 583.7 1090.0 587.5 1091.1 591.4C1092.1 595.2 1093.2 599.1 1094.3 602.9C1095.3 606.8 1096.3 610.7 1097.4 614.5C1098.4 618.4 1099.4 622.3 1100.4 626.1C1101.4 630.0 1102.4 633.9 1103.3 637.8C1104.3 641.7 1105.2 645.6 1106.2 649.4C1107.1 653.3 1108.0 657.2 1108.9 661.1C1109.8 665.0 1110.7 668.9 1111.7 672.8C1112.6 676.7 1113.4 680.6 1114.5 684.5C1115.5 688.3 1116.7 692.1 1117.9 695.9C1119.1 699.7 1120.4 703.4 1121.6 707.3C1122.7 711.1 1123.7 715.0 1124.7 718.8C1125.8 722.7 1126.8 726.6 1128.0 730.4C1129.1 734.2 1130.3 738.0 1131.6 741.8C1132.8 745.6 1134.1 749.4 1135.5 753.2C1136.8 757.0 1138.2 760.7 1139.6 764.5C1141.0 768.2 1142.5 771.9 1144.0 775.6C1145.5 779.3 1147.1 783.0 1148.7 786.6C1150.3 790.3 1152.1 793.9 1153.8 797.5C1155.4 801.2 1156.8 804.9 1158.6 808.5C1160.3 812.1 1161.9 815.8 1164.3 818.9C1166.6 822.0 1169.7 824.6 1172.8 827.1C1175.8 829.6 1179.3 831.7 1182.7 833.9C1186.0 836.1 1189.5 838.1 1192.8 840.2C1196.2 842.4 1199.6 844.5 1203.0 846.7C1206.3 848.8 1209.7 851.0 1213.1 853.1C1216.5 855.2 1219.9 857.3 1223.3 859.4C1226.7 861.6 1230.1 863.7 1233.5 865.7C1236.9 867.8 1240.4 869.8 1243.9 871.8C1247.3 873.8 1251.0 875.5 1254.2 877.8C1257.4 880.1 1260.4 882.7 1262.9 885.7C1265.4 888.7 1267.3 892.4 1269.3 895.8C1271.3 899.2 1273.1 902.8 1275.0 906.3C1277.0 909.8 1279.0 913.3 1281.1 916.7C1283.2 920.1 1285.4 923.4 1287.6 926.8C1289.8 930.1 1292.2 933.3 1294.5 936.6C1296.7 939.9 1299.0 943.2 1301.0 946.6C1303.1 950.1 1305.0 953.5 1306.8 957.1C1308.5 960.7 1310.1 964.4 1311.5 968.1C1313.0 971.9 1314.3 975.7 1315.5 979.4C1316.8 983.2 1318.0 987.1 1319.2 990.9C1320.3 994.7 1321.5 998.5 1322.7 1002.4C1323.8 1006.2 1325.0 1010.0 1326.1 1013.9C1327.3 1017.7 1328.4 1021.5 1329.5 1025.4C1330.6 1029.2 1331.7 1033.1 1332.7 1036.9C1333.8 1040.8 1334.8 1044.7 1335.8 1048.5C1336.7 1052.4 1337.7 1056.3 1338.6 1060.2C1339.5 1064.1 1340.4 1068.0 1341.3 1071.9C1342.1 1075.8 1343.0 1079.7 1343.8 1083.6C1344.6 1087.5 1345.4 1091.5 1346.2 1095.4C1347.0 1099.3 1347.8 1103.2 1348.6 1107.2C1349.3 1111.1 1350.1 1115.0 1350.9 1118.9C1351.7 1122.8 1352.4 1126.8 1353.2 1130.7C1354.0 1134.6 1354.8 1138.5 1355.6 1142.5C1356.4 1146.4 1357.2 1150.3 1358.1 1154.2C1358.9 1158.1 1359.7 1162.0 1360.6 1165.9C1361.5 1169.8 1362.3 1173.7 1363.2 1177.6C1364.1 1181.5 1365.0 1185.4 1365.9 1189.3C1366.7 1193.2 1367.6 1197.1 1368.5 1201.0C1369.4 1204.9 1370.3 1208.8 1371.2 1212.7C1372.1 1216.6 1373.0 1220.5 1373.9 1224.4C1374.8 1228.3 1375.7 1232.2 1376.6 1236.1C1377.5 1240.0 1378.4 1243.9 1379.3 1247.8C1380.2 1251.7 1381.0 1255.6 1381.9 1259.5C1382.8 1263.4 1383.6 1267.3 1384.5 1271.3C1385.3 1275.2 1386.2 1279.1 1387.0 1283.0C1387.8 1286.9 1388.7 1290.8 1389.5 1294.7C1390.3 1298.6 1391.2 1302.5 1392.0 1306.5C1392.8 1310.4 1393.7 1314.3 1394.5 1318.2C1395.3 1322.1 1396.2 1326.0 1397.0 1329.9C1397.8 1333.8 1398.7 1337.8 1399.5 1341.7C1400.4 1345.6 1401.2 1349.5 1402.1 1353.4C1402.9 1357.3 1403.8 1361.2 1404.7 1365.1C1405.6 1369.0 1406.5 1372.9 1407.6 1376.7C1408.7 1380.6 1409.8 1384.4 1411.0 1388.2C1412.2 1392.0 1413.5 1395.8 1414.7 1399.6C1416.0 1403.5 1417.2 1407.3 1418.4 1411.1C1419.5 1414.9 1420.7 1418.7 1421.8 1422.6C1423.0 1426.4 1424.1 1430.2 1425.2 1434.1C1426.4 1437.9 1427.5 1441.8 1428.6 1445.6C1429.7 1449.4 1430.7 1453.3 1431.8 1457.2C1432.9 1461.0 1434.0 1464.9 1435.1 1468.7C1436.1 1472.6 1437.2 1476.4 1438.4 1480.2C1439.5 1484.1 1440.7 1487.9 1442.1 1491.6C1443.5 1495.4 1445.2 1499.0 1446.9 1502.6C1448.6 1506.2 1450.5 1509.7 1452.3 1513.3C1454.0 1516.9 1455.7 1520.6 1457.2 1524.2C1458.8 1527.9 1460.3 1531.7 1461.8 1535.4C1463.2 1539.1 1464.7 1542.8 1466.1 1546.5C1467.6 1550.3 1469.0 1554.0 1470.5 1557.7C1471.9 1561.4 1473.4 1565.2 1474.9 1568.9C1476.4 1572.6 1478.0 1576.2 1479.7 1579.9C1481.4 1583.5 1483.1 1587.1 1484.9 1590.7C1486.7 1594.3 1488.6 1597.8 1490.5 1601.3C1492.5 1604.7 1494.6 1608.2 1496.8 1611.5C1499.0 1614.8 1501.3 1618.2 1503.8 1621.2C1506.4 1624.3 1509.1 1627.2 1512.1 1629.8C1515.1 1632.3 1518.5 1634.5 1522.0 1636.4C1525.5 1638.3 1529.3 1639.8 1533.0 1641.2C1536.7 1642.6 1540.5 1644.0 1544.3 1645.1C1548.2 1646.1 1552.1 1647.0 1556.0 1647.6C1559.9 1648.2 1563.9 1648.6 1567.9 1648.8C1571.9 1649.0 1575.9 1648.9 1579.9 1648.9C1583.9 1648.8 1587.9 1648.5 1591.9 1648.4C1595.9 1648.2 1599.9 1647.9 1603.9 1647.8C1607.9 1647.6 1611.9 1647.6 1615.9 1647.7C1619.9 1647.8 1623.9 1648.1 1627.9 1648.3C1631.8 1648.5 1635.8 1648.8 1639.8 1649.0C1643.8 1649.2 1647.8 1649.5 1651.8 1649.6C1655.8 1649.8 1659.8 1649.8 1663.8 1649.9C1667.8 1650.1 1671.8 1650.0 1675.8 1650.3C1679.8 1650.6 1683.8 1651.0 1687.7 1651.5C1691.7 1651.9 1695.7 1652.5 1699.6 1652.8C1703.6 1653.2 1707.6 1653.3 1711.6 1653.4C1715.6 1653.6 1719.6 1653.7 1723.6 1653.9C1727.6 1654.1 1731.6 1654.4 1735.6 1654.6C1739.6 1654.9 1743.6 1655.1 1747.6 1655.4C1751.6 1655.6 1755.6 1655.8 1759.5 1656.1C1763.5 1656.3 1767.5 1656.6 1771.5 1656.8C1775.5 1657.0 1779.5 1657.3 1783.5 1657.5C1787.5 1657.8 1791.5 1658.0 1795.5 1658.2C1799.5 1658.5 1803.5 1658.7 1807.5 1659.0C1811.5 1659.2 1815.4 1659.5 1819.4 1659.7C1823.4 1659.9 1827.4 1660.2 1831.4 1660.4C1835.4 1660.6 1839.4 1660.9 1843.4 1661.0C1847.4 1661.2 1851.4 1661.3 1855.4 1661.4C1859.4 1661.5 1863.4 1661.6 1867.4 1661.6C1871.4 1661.6 1875.4 1661.6 1879.4 1661.7C1883.4 1661.7 1887.4 1661.7 1891.4 1661.7C1895.4 1661.8 1899.4 1661.8 1903.4 1661.9C1907.4 1661.9 1911.4 1662.0 1915.4 1662.1C1919.4 1662.1 1923.4 1662.2 1927.4 1662.3C1931.4 1662.4 1935.4 1662.4 1939.4 1662.5C1943.4 1662.6 1947.4 1662.7 1951.4 1662.8C1955.3 1662.8 1961.1 1663.0 1963.0 1663.0"/>
<path class="cv" stroke="#9900cc" d="M417.8 48.2C419.8 48.2 425.8 48.2 429.8 48.2C433.8 48.2 437.8 48.2 441.8 48.2C445.8 48.2 449.8 48.2 453.8 48.2C457.8 48.2 461.8 48.2 465.8 48.2C469.8 48.2 473.8 48.2 477.8 48.2C481.8 48.2 485.8 48.2 489.8 48.2C493.8 48.2 497.8 48.2 501.8 48.2C505.8 48.2 509.8 48.2 513.8 48.2C517.8 48.2 521.8 48.2 525.8 48.2C529.8 48.2 533.8 48.2 537.8 48.2C541.8 48.2 545.8 48.2 549.8 48.2C553.8 48.2 557.8 48.2 561.8 48.2C565.8 48.2 569.8 48.2 573.8 48.2C577.8 48.2 581.8 48.2 585.8 48.2C589.8 48.2 593.8 48.2 597.8 48.2C601.8 48.2 605.8 48.2 609.8 48.2C613.8 48.2 617.8 48.2 621.8 48.2C625.8 48.2 629.8 48.2 633.8 48.2C637.8 48.2 641.8 48.2 645.8 48.2C649.8 48.2 653.8 48.2 657.8 48.2C661.8 48.2 665.8 48.2 669.8 48.2C673.8 48.2 677.8 48.2 681.8 48.2C685.8 48.2 689.8 48.2 693.8 48.2C697.8 48.2 701.8 48.2 705.8 48.2C709.8 48.2 713.8 48.2 717.8 48.2C721.8 48.2 725.8 48.2 729.8 48.2C733.8 48.2 737.8 48.2 741.8 48.2C745.8 48.2 749.8 48.2 753.8 48.2C757.8 48.2 761.8 48.2 765.8 48.2C769.8 48.2 773.8 48.2 777.8 48.2C781.8 48.2 785.8 48.2 789.8 48.2C793.8 48.2 797.8 48.2 801.8 48.2C805.8 48.1 809.8 48.1 813.8 48.1C817.8 48.1 821.8 48.1 825.8 48.1C829.8 48.1 833.8 48.1 837.8 48.1C841.8 48.1 845.8 48.1 849.8 48.1C853.8 48.2 857.8 48.2 861.8 48.2C865.8 48.2 869.8 48.2 873.8 48.2C877.8 48.2 881.8 48.2 885.8 48.2C889.8 48.3 893.8 48.3 897.8 48.3C901.8 48.4 905.9 48.3 909.6 48.6C913.3 48.9 916.3 49.4 919.9 50.1C923.4 50.8 927.2 51.6 931.0 52.5C934.7 53.5 938.7 54.7 942.4 56.0C946.2 57.4 949.9 59.0 953.5 60.6C957.1 62.3 960.8 64.0 964.3 65.9C967.7 67.8 971.1 69.9 974.4 72.3C977.6 74.6 980.6 77.3 983.6 80.0C986.5 82.6 989.4 85.4 992.1 88.4C994.8 91.3 997.4 94.4 999.8 97.6C1002.2 100.7 1004.4 104.1 1006.6 107.4C1008.7 110.8 1010.7 114.3 1012.5 117.9C1014.2 121.4 1015.8 125.1 1017.2 128.9C1018.6 132.6 1019.8 136.4 1021.0 140.2C1022.3 144.0 1023.6 147.8 1024.8 151.6C1026.0 155.4 1027.2 159.3 1028.2 163.1C1029.3 167.0 1030.2 170.9 1031.1 174.8C1032.0 178.7 1032.8 182.6 1033.8 186.5C1034.7 190.4 1035.6 194.2 1036.6 198.1C1037.5 202.0 1038.5 205.9 1039.3 209.8C1040.2 213.7 1041.0 217.6 1041.7 221.6C1042.4 225.5 1043.0 229.5 1043.6 233.4C1044.2 237.4 1044.8 241.3 1045.3 245.3C1045.9 249.3 1046.4 253.2 1046.9 257.2C1047.4 261.2 1047.9 265.1 1048.3 269.1C1048.8 273.1 1049.2 277.1 1049.7 281.0C1050.1 285.0 1050.5 289.0 1051.0 293.0C1051.4 296.9 1051.8 300.9 1052.2 304.9C1052.6 308.9 1053.0 312.9 1053.4 316.8C1053.7 320.8 1054.1 324.8 1054.5 328.8C1054.8 332.8 1055.2 336.8 1055.6 340.7C1055.9 344.7 1056.3 348.7 1056.6 352.7C1057.0 356.7 1057.4 360.7 1057.7 364.6C1058.1 368.6 1058.4 372.6 1058.8 376.6C1059.2 380.6 1059.5 384.6 1059.9 388.5C1060.3 392.5 1060.7 396.5 1061.0 400.5C1061.4 404.5 1061.8 408.4 1062.2 412.4C1062.6 416.4 1062.9 420.4 1063.3 424.4C1063.7 428.4 1064.1 432.3 1064.6 436.3C1065.0 440.3 1065.5 444.2 1066.1 448.2C1066.6 452.2 1067.2 456.1 1067.8 460.1C1068.4 464.0 1069.0 468.0 1069.7 471.9C1070.3 475.9 1071.0 479.8 1071.7 483.8C1072.4 487.7 1073.1 491.7 1073.8 495.6C1074.5 499.5 1075.2 503.5 1076.0 507.4C1076.7 511.3 1077.5 515.2 1078.3 519.2C1079.1 523.1 1079.9 527.0 1080.7 530.9C1081.6 534.8 1082.5 538.7 1083.3 542.6C1084.2 546.5 1085.1 550.4 1085.9 554.3C1086.8 558.3 1087.5 562.2 1088.3 566.1C1089.0 570.0 1089.6 574.0 1090.5 577.9C1091.3 581.8 1092.3 585.7 1093.3 589.6C1094.3 593.4 1095.4 597.3 1096.5 601.1C1097.6 605.0 1098.7 608.8 1099.9 612.6C1101.0 616.5 1102.2 620.3 1103.3 624.1C1104.4 628.0 1105.6 631.8 1106.7 635.6C1107.7 639.5 1108.8 643.4 1109.8 647.2C1110.8 651.1 1111.7 655.0 1112.7 658.9C1113.7 662.8 1114.6 666.6 1115.6 670.5C1116.6 674.4 1117.5 678.3 1118.6 682.1C1119.7 686.0 1120.9 689.8 1122.2 693.6C1123.5 697.3 1125.0 701.1 1126.6 704.7C1128.1 708.4 1129.8 712.0 1131.5 715.7C1133.1 719.3 1134.8 723.0 1136.5 726.6C1138.2 730.2 1139.8 733.9 1141.8 737.3C1143.7 740.8 1146.0 744.1 1148.2 747.4C1150.4 750.8 1152.7 754.1 1154.8 757.4C1157.0 760.8 1159.0 764.3 1161.2 767.6C1163.5 770.9 1165.7 774.2 1168.3 777.2C1170.9 780.2 1173.8 783.0 1176.8 785.6C1179.8 788.2 1183.0 790.6 1186.2 793.0C1189.5 795.4 1192.8 797.6 1196.1 799.8C1199.4 802.0 1202.8 804.2 1206.2 806.3C1209.5 808.5 1212.9 810.7 1216.2 812.9C1219.6 815.1 1223.0 817.3 1226.2 819.6C1229.5 821.9 1232.7 824.3 1235.8 826.7C1238.9 829.2 1242.1 831.8 1245.0 834.5C1247.9 837.2 1250.7 840.0 1253.3 843.0C1255.9 846.0 1258.2 849.4 1260.5 852.6C1262.9 855.8 1265.2 859.1 1267.7 862.2C1270.1 865.4 1272.7 868.4 1275.1 871.7C1277.4 874.9 1279.5 878.3 1281.6 881.7C1283.7 885.1 1285.7 888.6 1287.6 892.1C1289.6 895.6 1291.5 899.1 1293.3 902.7C1295.0 906.2 1296.7 909.9 1298.4 913.5C1300.1 917.1 1301.7 920.8 1303.2 924.5C1304.7 928.2 1306.2 931.9 1307.5 935.7C1308.9 939.4 1310.1 943.3 1311.5 947.0C1312.8 950.8 1314.0 954.6 1315.5 958.3C1317.0 962.0 1318.7 965.7 1320.3 969.3C1322.0 972.9 1323.8 976.5 1325.4 980.1C1327.0 983.8 1328.5 987.5 1329.9 991.3C1331.3 995.0 1332.5 998.8 1333.7 1002.6C1334.9 1006.5 1335.9 1010.3 1337.0 1014.2C1338.2 1018.0 1339.4 1021.8 1340.6 1025.6C1341.9 1029.4 1343.2 1033.2 1344.4 1037.0C1345.6 1040.8 1346.7 1044.7 1347.8 1048.5C1348.8 1052.4 1349.7 1056.3 1350.6 1060.2C1351.5 1064.1 1352.3 1068.0 1353.1 1071.9C1353.8 1075.8 1354.6 1079.8 1355.3 1083.7C1356.1 1087.6 1356.8 1091.6 1357.5 1095.5C1358.2 1099.4 1358.9 1103.4 1359.6 1107.3C1360.3 1111.2 1361.1 1115.2 1361.8 1119.1C1362.5 1123.1 1363.2 1127.0 1364.0 1130.9C1364.7 1134.8 1365.5 1138.8 1366.2 1142.7C1367.0 1146.6 1367.8 1150.5 1368.6 1154.5C1369.5 1158.4 1370.3 1162.3 1371.2 1166.2C1372.1 1170.1 1373.0 1174.0 1373.9 1177.9C1374.8 1181.8 1375.8 1185.7 1376.7 1189.5C1377.7 1193.4 1378.6 1197.3 1379.6 1201.2C1380.6 1205.1 1381.6 1208.9 1382.5 1212.8C1383.5 1216.7 1384.5 1220.6 1385.5 1224.4C1386.5 1228.3 1387.5 1232.2 1388.4 1236.1C1389.4 1240.0 1390.3 1243.9 1391.3 1247.7C1392.2 1251.6 1393.1 1255.5 1394.1 1259.4C1395.0 1263.3 1395.8 1267.2 1396.7 1271.1C1397.6 1275.0 1398.5 1278.9 1399.3 1282.8C1400.2 1286.7 1401.0 1290.6 1401.9 1294.6C1402.7 1298.5 1403.5 1302.4 1404.4 1306.3C1405.2 1310.2 1406.1 1314.1 1406.9 1318.0C1407.7 1321.9 1408.6 1325.8 1409.4 1329.8C1410.2 1333.7 1411.1 1337.6 1411.9 1341.5C1412.8 1345.4 1413.6 1349.3 1414.5 1353.2C1415.5 1357.1 1416.3 1361.0 1417.4 1364.9C1418.4 1368.7 1419.6 1372.5 1420.8 1376.3C1422.0 1380.1 1423.5 1383.9 1424.6 1387.7C1425.8 1391.5 1426.8 1395.4 1427.9 1399.2C1429.0 1403.1 1430.1 1406.9 1431.3 1410.7C1432.5 1414.6 1433.7 1418.4 1434.9 1422.2C1436.1 1426.0 1437.4 1429.8 1438.5 1433.6C1439.7 1437.5 1440.8 1441.3 1441.9 1445.1C1442.9 1449.0 1443.9 1452.9 1444.9 1456.8C1445.9 1460.6 1446.9 1464.5 1448.0 1468.3C1449.1 1472.2 1450.3 1476.0 1451.5 1479.8C1452.6 1483.7 1453.8 1487.5 1455.0 1491.3C1456.2 1495.1 1457.3 1499.0 1458.5 1502.8C1459.7 1506.6 1460.7 1510.5 1462.0 1514.2C1463.3 1518.0 1464.7 1521.8 1466.3 1525.4C1467.9 1529.1 1469.9 1532.6 1471.8 1536.1C1473.8 1539.6 1476.0 1542.9 1478.0 1546.3C1480.0 1549.8 1481.9 1553.3 1483.8 1556.8C1485.6 1560.4 1487.2 1564.1 1489.2 1567.5C1491.3 1570.9 1493.5 1574.2 1496.0 1577.3C1498.6 1580.3 1501.6 1583.0 1504.5 1585.7C1507.5 1588.4 1510.6 1590.9 1513.8 1593.2C1517.0 1595.6 1520.4 1597.8 1523.9 1599.8C1527.3 1601.8 1530.8 1603.7 1534.5 1605.3C1538.1 1606.9 1542.0 1608.1 1545.8 1609.2C1549.6 1610.2 1553.6 1611.0 1557.5 1611.7C1561.4 1612.4 1565.4 1613.0 1569.4 1613.5C1573.3 1614.0 1577.3 1614.3 1581.3 1614.7C1585.3 1615.1 1589.3 1615.4 1593.2 1615.8C1597.2 1616.2 1601.2 1616.7 1605.2 1617.1C1609.1 1617.6 1613.1 1618.1 1617.1 1618.6C1621.0 1619.1 1625.0 1619.7 1629.0 1620.3C1632.9 1620.9 1636.9 1621.6 1640.8 1622.3C1644.7 1623.1 1648.6 1623.9 1652.6 1624.7C1656.5 1625.5 1660.4 1626.3 1664.3 1627.2C1668.2 1628.1 1672.1 1628.9 1676.0 1629.9C1679.9 1630.9 1683.7 1631.9 1687.6 1633.0C1691.4 1634.2 1695.2 1635.5 1699.0 1636.8C1702.8 1638.0 1706.5 1639.3 1710.4 1640.5C1714.2 1641.7 1718.0 1642.9 1721.8 1644.1C1725.6 1645.2 1729.5 1646.4 1733.3 1647.6C1737.1 1648.8 1740.9 1649.9 1744.7 1651.1C1748.6 1652.3 1752.4 1653.6 1756.2 1654.8C1760.0 1655.9 1763.8 1657.2 1767.7 1658.2C1771.5 1659.2 1775.5 1660.0 1779.4 1660.6C1783.3 1661.3 1787.3 1661.7 1791.3 1662.3C1795.2 1662.8 1799.2 1663.4 1803.1 1664.1C1807.1 1664.7 1811.0 1665.5 1815.0 1666.1C1818.9 1666.7 1822.9 1667.2 1826.9 1667.6C1830.8 1668.0 1834.8 1668.3 1838.8 1668.7C1842.8 1669.0 1846.8 1669.3 1850.8 1669.7C1854.8 1670.0 1858.7 1670.3 1862.7 1670.6C1866.7 1670.8 1870.7 1671.1 1874.7 1671.3C1878.7 1671.6 1882.7 1671.8 1886.7 1671.9C1890.7 1672.1 1894.7 1672.2 1898.7 1672.3C1902.7 1672.5 1906.7 1672.5 1910.7 1672.6C1914.7 1672.7 1918.7 1672.7 1922.7 1672.8C1926.7 1672.8 1930.7 1672.9 1934.7 1672.9C1938.7 1673.0 1942.7 1673.0 1946.7 1673.0C1950.7 1673.1 1956.3 1673.2 1958.6 1673.2C1960.9 1673.2 1960.3 1673.2 1960.6 1673.2"/>
<path class="cv" stroke="#999999" d="M417.8 48.2C419.8 48.2 425.8 48.2 429.8 48.2C433.8 48.2 437.8 48.2 441.8 48.2C445.8 48.2 449.8 48.2 453.8 48.2C457.8 48.2 461.8 48.2 465.8 48.2C469.8 48.2 473.8 48.2 477.8 48.2C481.8 48.2 485.8 48.2 489.8 48.2C493.8 48.2 497.8 48.2 501.8 48.2C505.8 48.2 509.8 48.2 513.8 48.2C517.8 48.2 521.8 48.2 525.8 48.2C529.8 48.2 533.8 48.2 537.8 48.2C541.8 48.2 545.8 48.2 549.8 48.2C553.8 48.2 557.8 48.2 561.8 48.2C565.8 48.2 569.8 48.2 573.8 48.2C577.8 48.2 581.8 48.2 585.8 48.2C589.8 48.2 593.8 48.2 597.8 48.2C601.8 48.2 605.8 48.2 609.8 48.2C613.8 48.2 617.8 48.2 621.8 48.2C625.8 48.2 629.8 48.2 633.8 48.2C637.8 48.2 641.8 48.2 645.8 48.2C649.8 48.2 653.8 48.2 657.8 48.2C661.8 48.2 665.8 48.2 669.8 48.2C673.8 48.2 677.8 48.2 681.8 48.2C685.8 48.2 689.8 48.2 693.8 48.2C697.8 48.2 701.8 48.2 705.8 48.2C709.8 48.2 713.8 48.2 717.8 48.2C721.8 48.2 725.8 48.2 729.8 48.2C733.8 48.2 737.8 48.2 741.8 48.2C745.8 48.2 749.8 48.2 753.8 48.2C757.8 48.2 761.8 48.2 765.8 48.2C769.8 48.2 773.8 48.2 777.8 48.2C781.8 48.2 785.8 48.1 789.8 48.1C793.8 48.1 797.8 48.1 801.8 48.1C805.8 48.1 809.8 48.1 813.8 48.1C817.8 48.1 821.8 48.1 825.8 48.1C829.8 48.1 833.8 48.1 837.8 48.1C841.8 48.1 845.8 48.1 849.8 48.2C853.8 48.2 857.8 48.2 861.8 48.2C865.8 48.2 869.8 48.2 873.8 48.3C877.8 48.3 881.8 48.3 885.8 48.4C889.8 48.5 893.8 48.5 897.7 48.9C901.6 49.3 905.3 50.1 909.2 50.8C913.0 51.5 917.0 52.2 920.8 53.2C924.7 54.3 928.5 55.5 932.2 56.9C936.0 58.3 939.6 60.0 943.2 61.7C946.9 63.4 950.4 65.2 954.0 67.0C957.5 68.9 961.0 70.9 964.4 73.0C967.8 75.1 971.1 77.3 974.4 79.6C977.6 81.9 980.9 84.3 983.9 86.9C986.9 89.5 989.9 92.1 992.6 95.1C995.3 98.0 997.7 101.2 1000.0 104.5C1002.2 107.8 1004.2 111.3 1006.2 114.8C1008.1 118.3 1009.8 121.9 1011.4 125.5C1013.0 129.2 1014.5 132.9 1015.9 136.7C1017.4 140.4 1018.7 144.2 1020.0 147.9C1021.3 151.7 1022.5 155.5 1023.7 159.4C1024.8 163.2 1026.0 167.0 1027.0 170.9C1028.1 174.7 1029.0 178.6 1030.0 182.5C1031.0 186.4 1031.8 190.3 1032.8 194.2C1033.7 198.1 1034.7 201.9 1035.6 205.8C1036.5 209.7 1037.4 213.6 1038.2 217.6C1039.0 221.5 1039.8 225.4 1040.5 229.3C1041.2 233.3 1041.8 237.2 1042.4 241.2C1043.0 245.1 1043.5 249.1 1044.0 253.1C1044.6 257.0 1045.1 261.0 1045.6 265.0C1046.1 268.9 1046.7 272.9 1047.2 276.9C1047.7 280.8 1048.2 284.8 1048.7 288.8C1049.3 292.7 1049.8 296.7 1050.3 300.7C1050.8 304.6 1051.3 308.6 1051.8 312.6C1052.3 316.5 1052.7 320.5 1053.2 324.5C1053.7 328.4 1054.2 332.4 1054.7 336.4C1055.2 340.4 1055.7 344.3 1056.2 348.3C1056.7 352.3 1057.2 356.2 1057.7 360.2C1058.2 364.2 1058.7 368.1 1059.3 372.1C1059.8 376.1 1060.3 380.0 1060.8 384.0C1061.4 388.0 1061.9 391.9 1062.4 395.9C1063.0 399.8 1063.5 403.8 1064.1 407.8C1064.6 411.7 1065.2 415.7 1065.7 419.7C1066.3 423.6 1066.8 427.6 1067.4 431.5C1068.0 435.5 1068.6 439.4 1069.2 443.4C1069.9 447.3 1070.5 451.3 1071.2 455.2C1071.9 459.2 1072.6 463.1 1073.3 467.1C1074.0 471.0 1074.7 474.9 1075.5 478.9C1076.2 482.8 1076.9 486.7 1077.7 490.6C1078.4 494.6 1079.2 498.5 1080.0 502.4C1080.7 506.4 1081.5 510.3 1082.3 514.2C1083.1 518.1 1083.9 522.0 1084.7 526.0C1085.5 529.9 1086.3 533.8 1087.1 537.7C1088.0 541.6 1088.8 545.5 1089.7 549.4C1090.5 553.4 1091.3 557.3 1092.1 561.2C1092.8 565.1 1093.5 569.1 1094.3 573.0C1095.1 576.9 1095.9 580.8 1096.8 584.7C1097.7 588.6 1098.7 592.5 1099.7 596.3C1100.7 600.2 1101.8 604.1 1102.9 607.9C1104.0 611.8 1105.2 615.6 1106.3 619.4C1107.4 623.3 1108.6 627.1 1109.7 630.9C1110.8 634.8 1111.8 638.7 1112.8 642.5C1113.8 646.4 1114.8 650.3 1115.7 654.2C1116.7 658.0 1117.6 661.9 1118.5 665.8C1119.5 669.7 1120.4 673.6 1121.4 677.5C1122.4 681.4 1123.3 685.2 1124.4 689.1C1125.5 692.9 1126.6 696.8 1127.9 700.6C1129.1 704.4 1130.4 708.2 1131.7 712.0C1133.0 715.7 1134.3 719.5 1135.6 723.3C1136.9 727.1 1138.1 730.9 1139.4 734.7C1140.7 738.5 1142.0 742.2 1143.5 746.0C1144.9 749.7 1146.4 753.4 1148.1 757.0C1149.7 760.7 1151.3 764.4 1153.3 767.8C1155.2 771.3 1157.4 774.7 1159.8 777.8C1162.3 781.0 1165.0 783.9 1167.9 786.7C1170.7 789.5 1173.7 792.2 1176.7 794.8C1179.8 797.3 1182.9 799.8 1186.2 802.1C1189.4 804.5 1192.8 806.7 1196.1 808.9C1199.4 811.1 1202.8 813.2 1206.2 815.4C1209.6 817.5 1213.0 819.6 1216.3 821.8C1219.7 823.9 1223.1 826.0 1226.4 828.3C1229.7 830.5 1233.0 832.8 1236.2 835.3C1239.4 837.7 1242.4 840.2 1245.5 842.8C1248.5 845.4 1251.6 848.0 1254.5 850.8C1257.4 853.5 1260.2 856.4 1262.9 859.3C1265.6 862.2 1268.3 865.2 1270.8 868.3C1273.3 871.4 1275.6 874.7 1277.8 878.0C1279.9 881.4 1281.8 884.9 1283.7 888.5C1285.5 892.0 1287.3 895.6 1289.0 899.2C1290.6 902.9 1292.2 906.5 1293.7 910.3C1295.2 914.0 1296.6 917.7 1297.9 921.5C1299.3 925.2 1300.6 929.0 1301.9 932.8C1303.2 936.6 1304.3 940.4 1305.5 944.2C1306.7 948.1 1307.8 951.9 1308.9 955.7C1310.1 959.6 1311.2 963.4 1312.3 967.3C1313.4 971.1 1314.4 975.0 1315.5 978.8C1316.6 982.7 1317.7 986.5 1318.8 990.4C1319.9 994.2 1321.0 998.1 1322.1 1001.9C1323.2 1005.7 1324.4 1009.6 1325.6 1013.4C1326.7 1017.2 1327.9 1021.0 1329.0 1024.9C1330.1 1028.7 1331.2 1032.6 1332.3 1036.4C1333.3 1040.3 1334.4 1044.1 1335.4 1048.0C1336.4 1051.9 1337.4 1055.8 1338.3 1059.7C1339.2 1063.5 1340.1 1067.4 1341.0 1071.4C1341.8 1075.3 1342.6 1079.2 1343.5 1083.1C1344.3 1087.0 1345.1 1090.9 1345.9 1094.8C1346.7 1098.8 1347.4 1102.7 1348.2 1106.6C1349.0 1110.5 1349.8 1114.5 1350.5 1118.4C1351.3 1122.3 1352.1 1126.2 1352.9 1130.2C1353.6 1134.1 1354.4 1138.0 1355.2 1141.9C1356.0 1145.8 1356.8 1149.8 1357.7 1153.7C1358.5 1157.6 1359.3 1161.5 1360.2 1165.4C1361.0 1169.3 1361.9 1173.2 1362.8 1177.1C1363.7 1181.0 1364.5 1184.9 1365.4 1188.8C1366.3 1192.7 1367.2 1196.6 1368.1 1200.5C1369.0 1204.4 1369.9 1208.3 1370.8 1212.2C1371.7 1216.1 1372.6 1220.0 1373.5 1223.9C1374.4 1227.8 1375.3 1231.7 1376.2 1235.6C1377.1 1239.5 1378.0 1243.4 1378.9 1247.3C1379.7 1251.2 1380.6 1255.1 1381.5 1259.0C1382.3 1262.9 1383.2 1266.8 1384.1 1270.7C1384.9 1274.6 1385.7 1278.6 1386.6 1282.5C1387.4 1286.4 1388.3 1290.3 1389.1 1294.2C1389.9 1298.1 1390.8 1302.0 1391.6 1305.9C1392.4 1309.8 1393.3 1313.8 1394.1 1317.7C1394.9 1321.6 1395.8 1325.5 1396.6 1329.4C1397.4 1333.3 1398.3 1337.2 1399.1 1341.1C1400.0 1345.0 1400.8 1349.0 1401.7 1352.9C1402.6 1356.8 1403.4 1360.7 1404.4 1364.5C1405.4 1368.4 1406.5 1372.3 1407.6 1376.1C1408.7 1379.9 1410.0 1383.7 1411.2 1387.6C1412.3 1391.4 1413.4 1395.2 1414.4 1399.1C1415.5 1403.0 1416.4 1406.9 1417.4 1410.7C1418.3 1414.6 1419.2 1418.5 1420.2 1422.4C1421.1 1426.3 1422.0 1430.2 1423.0 1434.1C1424.0 1437.9 1425.1 1441.8 1426.2 1445.6C1427.3 1449.5 1428.6 1453.2 1429.9 1457.1C1431.1 1460.9 1432.3 1464.7 1433.6 1468.5C1434.8 1472.3 1435.8 1476.1 1437.2 1479.9C1438.5 1483.7 1439.9 1487.4 1441.6 1491.0C1443.4 1494.6 1445.6 1497.9 1447.6 1501.4C1449.6 1504.8 1451.7 1508.2 1453.8 1511.7C1455.8 1515.1 1457.8 1518.5 1459.9 1522.0C1462.0 1525.4 1464.1 1528.8 1466.3 1532.1C1468.5 1535.5 1470.7 1538.8 1473.2 1541.9C1475.6 1545.1 1478.3 1548.0 1481.1 1550.9C1483.8 1553.8 1486.8 1556.5 1489.7 1559.3C1492.6 1562.0 1495.4 1564.9 1498.5 1567.4C1501.5 1570.0 1504.7 1572.4 1508.1 1574.5C1511.4 1576.6 1515.0 1578.5 1518.7 1580.0C1522.4 1581.5 1526.2 1582.6 1530.1 1583.6C1534.0 1584.6 1537.9 1585.3 1541.9 1585.8C1545.8 1586.4 1549.8 1586.7 1553.8 1587.0C1557.8 1587.4 1561.8 1587.7 1565.7 1588.1C1569.7 1588.5 1573.7 1588.8 1577.7 1589.3C1581.6 1589.8 1585.6 1590.2 1589.6 1590.9C1593.5 1591.6 1597.4 1592.4 1601.3 1593.3C1605.2 1594.2 1609.1 1595.2 1612.9 1596.3C1616.8 1597.3 1620.7 1598.3 1624.5 1599.4C1628.4 1600.5 1632.2 1601.6 1636.0 1602.8C1639.8 1604.0 1643.7 1605.2 1647.5 1606.4C1651.3 1607.7 1655.1 1608.9 1658.8 1610.3C1662.6 1611.6 1666.4 1612.9 1670.1 1614.4C1673.8 1615.8 1677.5 1617.3 1681.2 1618.9C1684.9 1620.5 1688.5 1622.2 1692.1 1624.0C1695.7 1625.7 1699.2 1627.6 1702.8 1629.4C1706.4 1631.2 1709.9 1633.0 1713.5 1634.8C1717.1 1636.6 1720.7 1638.3 1724.3 1640.1C1727.9 1641.8 1731.5 1643.5 1735.1 1645.3C1738.7 1647.0 1742.3 1648.7 1745.9 1650.4C1749.6 1652.1 1753.2 1653.8 1756.8 1655.5C1760.4 1657.2 1764.0 1658.9 1767.7 1660.5C1771.4 1662.0 1775.1 1663.5 1778.9 1664.9C1782.6 1666.3 1786.4 1667.6 1790.2 1668.9C1794.0 1670.1 1797.8 1671.3 1801.7 1672.3C1805.5 1673.3 1809.5 1674.2 1813.4 1675.0C1817.3 1675.8 1821.2 1676.4 1825.2 1677.1C1829.1 1677.8 1833.1 1678.5 1837.0 1679.0C1841.0 1679.6 1845.0 1680.0 1848.9 1680.4C1852.9 1680.8 1856.9 1681.1 1860.9 1681.4C1864.9 1681.7 1868.9 1682.0 1872.9 1682.3C1876.9 1682.6 1880.8 1682.8 1884.8 1683.1C1888.8 1683.3 1892.8 1683.6 1896.8 1683.8C1900.8 1684.0 1904.8 1684.2 1908.8 1684.3C1912.8 1684.5 1916.8 1684.6 1920.8 1684.8C1924.8 1684.9 1928.8 1685.1 1932.8 1685.2C1936.8 1685.3 1940.8 1685.5 1944.8 1685.6C1948.8 1685.8 1953.8 1685.9 1956.8 1686.0C1959.8 1686.1 1961.8 1686.2 1962.8 1686.2"/>
<path class="cv" stroke="#ff6666" d="M417.8 48.2C419.8 48.2 425.8 48.2 429.8 48.2C433.8 48.2 437.8 48.2 441.8 48.2C445.8 48.2 449.8 48.2 453.8 48.2C457.8 48.2 461.8 48.2 465.8 48.2C469.8 48.2 473.8 48.2 477.8 48.2C481.8 48.2 485.8 48.2 489.8 48.2C493.8 48.2 497.8 48.2 501.8 48.2C505.8 48.2 509.8 48.2 513.8 48.2C517.8 48.2 521.8 48.2 525.8 48.2C529.8 48.2 533.8 48.2 537.8 48.2C541.8 48.2 545.8 48.2 549.8 48.2C553.8 48.2 557.8 48.2 561.8 48.2C565.8 48.2 569.8 48.2 573.8 48.2C577.8 48.2 581.8 48.2 585.8 48.2C589.8 48.2 593.8 48.2 597.8 48.2C601.8 48.2 605.8 48.2 609.8 48.2C613.8 48.2 617.8 48.2 621.8 48.2C625.8 48.2 629.8 48.2 633.8 48.2C637.8 48.2 641.8 48.2 645.8 48.2C649.8 48.2 653.8 48.2 657.8 48.2C661.8 48.2 665.8 48.2 669.8 48.2C673.8 48.2 677.8 48.2 681.8 48.2C685.8 48.2 689.8 48.2 693.8 48.2C697.8 48.2 701.8 48.2 705.8 48.2C709.8 48.2 713.8 48.2 717.8 48.2C721.8 48.2 725.8 48.2 729.8 48.2C733.8 48.2 737.8 48.2 741.8 48.2C745.8 48.2 749.8 48.2 753.8 48.2C757.8 48.2 761.8 48.2 765.8 48.2C769.8 48.2 773.8 48.2 777.8 48.2C781.8 48.2 785.8 48.2 789.8 48.2C793.8 48.2 797.8 48.2 801.8 48.2C805.8 48.2 809.8 48.2 813.8 48.2C817.8 48.2 821.8 48.3 825.8 48.3C829.8 48.3 833.8 48.4 837.8 48.4C841.8 48.5 845.8 48.5 849.8 48.7C853.8 48.8 857.8 49.0 861.8 49.3C865.8 49.6 869.7 50.1 873.7 50.6C877.7 51.1 881.6 51.6 885.6 52.4C889.5 53.1 893.4 53.9 897.3 54.9C901.2 55.9 905.0 56.9 908.8 58.1C912.6 59.3 916.4 60.6 920.2 62.0C923.9 63.4 927.6 64.9 931.3 66.4C935.0 68.0 938.7 69.6 942.3 71.3C945.9 73.0 949.5 74.8 953.0 76.7C956.5 78.6 960.0 80.5 963.4 82.7C966.8 84.8 970.0 87.1 973.2 89.5C976.4 91.9 979.5 94.5 982.5 97.1C985.5 99.8 988.4 102.5 991.1 105.5C993.8 108.4 996.3 111.6 998.6 114.8C1000.9 118.0 1003.0 121.5 1005.0 124.9C1007.0 128.4 1008.7 132.0 1010.5 135.6C1012.2 139.2 1013.9 142.8 1015.5 146.5C1017.1 150.2 1018.5 153.9 1020.0 157.6C1021.4 161.3 1022.8 165.1 1024.1 168.9C1025.4 172.7 1026.6 176.5 1027.7 180.3C1028.9 184.1 1029.9 188.0 1031.1 191.8C1032.3 195.7 1033.6 199.4 1034.8 203.3C1036.0 207.1 1037.3 210.9 1038.4 214.7C1039.5 218.5 1040.5 222.4 1041.4 226.3C1042.3 230.2 1043.1 234.1 1043.8 238.1C1044.6 242.0 1045.2 245.9 1045.8 249.9C1046.4 253.8 1046.9 257.8 1047.5 261.8C1048.1 265.7 1048.6 269.7 1049.2 273.6C1049.7 277.6 1050.3 281.6 1050.8 285.5C1051.4 289.5 1051.9 293.5 1052.4 297.4C1053.0 301.4 1053.5 305.4 1054.0 309.3C1054.5 313.3 1055.0 317.3 1055.5 321.2C1056.0 325.2 1056.5 329.2 1057.0 333.1C1057.5 337.1 1058.0 341.1 1058.6 345.0C1059.1 349.0 1059.6 353.0 1060.1 356.9C1060.6 360.9 1061.2 364.9 1061.7 368.8C1062.2 372.8 1062.8 376.8 1063.3 380.7C1063.9 384.7 1064.4 388.6 1065.0 392.6C1065.5 396.6 1066.1 400.5 1066.6 404.5C1067.2 408.4 1067.7 412.4 1068.3 416.4C1068.8 420.3 1069.4 424.3 1069.9 428.3C1070.5 432.2 1071.1 436.2 1071.7 440.1C1072.3 444.1 1073.0 448.0 1073.6 452.0C1074.3 455.9 1075.0 459.9 1075.7 463.8C1076.4 467.7 1077.1 471.7 1077.8 475.6C1078.6 479.5 1079.3 483.5 1080.0 487.4C1080.8 491.3 1081.5 495.3 1082.3 499.2C1083.1 503.1 1083.8 507.0 1084.6 511.0C1085.4 514.9 1086.2 518.8 1087.1 522.7C1087.9 526.6 1088.8 530.5 1089.6 534.4C1090.5 538.3 1091.4 542.2 1092.3 546.1C1093.1 550.0 1094.0 553.9 1094.9 557.8C1095.7 561.8 1096.4 565.7 1097.2 569.6C1098.1 573.5 1098.8 577.4 1099.8 581.3C1100.7 585.2 1101.9 589.0 1103.0 592.9C1104.1 596.7 1105.3 600.6 1106.5 604.4C1107.7 608.2 1108.9 612.0 1110.1 615.8C1111.4 619.6 1112.6 623.4 1113.8 627.2C1115.0 631.0 1116.2 634.9 1117.3 638.7C1118.4 642.5 1119.4 646.4 1120.4 650.3C1121.4 654.2 1122.4 658.0 1123.3 661.9C1124.3 665.8 1125.3 669.7 1126.2 673.6C1127.2 677.4 1128.2 681.3 1129.3 685.2C1130.4 689.0 1131.5 692.9 1132.7 696.7C1134.0 700.5 1135.3 704.2 1136.7 708.0C1138.1 711.7 1139.5 715.5 1141.0 719.2C1142.4 722.9 1143.8 726.7 1145.3 730.4C1146.9 734.1 1148.3 737.8 1150.0 741.4C1151.7 745.0 1153.5 748.6 1155.4 752.1C1157.3 755.7 1159.2 759.2 1161.3 762.6C1163.4 766.0 1165.4 769.5 1167.9 772.6C1170.3 775.7 1173.1 778.6 1176.0 781.3C1179.0 783.9 1182.2 786.3 1185.5 788.6C1188.7 790.9 1192.2 793.0 1195.6 795.1C1199.0 797.1 1202.5 799.0 1206.1 800.9C1209.6 802.8 1213.2 804.5 1216.7 806.4C1220.3 808.3 1223.9 810.0 1227.3 812.1C1230.7 814.2 1233.9 816.5 1237.1 818.9C1240.3 821.3 1243.4 823.9 1246.4 826.5C1249.4 829.2 1252.4 831.8 1255.2 834.7C1257.9 837.6 1260.4 840.7 1263.0 843.8C1265.5 846.9 1267.8 850.1 1270.2 853.3C1272.6 856.6 1274.9 859.8 1277.1 863.2C1279.3 866.5 1281.3 869.9 1283.4 873.4C1285.4 876.8 1287.4 880.3 1289.2 883.8C1291.1 887.4 1292.9 890.9 1294.6 894.5C1296.4 898.2 1298.0 901.8 1299.6 905.5C1301.2 909.1 1302.8 912.8 1304.3 916.5C1305.8 920.2 1307.2 924.0 1308.6 927.7C1309.9 931.5 1311.3 935.3 1312.6 939.0C1313.9 942.8 1315.2 946.6 1316.4 950.4C1317.7 954.2 1318.9 958.0 1319.9 961.9C1321.0 965.7 1322.0 969.6 1322.9 973.5C1323.9 977.4 1324.8 981.3 1325.8 985.1C1326.8 989.0 1327.9 992.9 1329.0 996.7C1330.1 1000.6 1331.2 1004.4 1332.4 1008.2C1333.5 1012.0 1334.7 1015.9 1335.8 1019.7C1337.0 1023.5 1338.1 1027.4 1339.2 1031.2C1340.3 1035.1 1341.4 1038.9 1342.4 1042.8C1343.4 1046.7 1344.4 1050.5 1345.4 1054.4C1346.3 1058.3 1347.2 1062.2 1348.0 1066.1C1348.9 1070.0 1349.6 1073.9 1350.4 1077.9C1351.2 1081.8 1351.9 1085.7 1352.7 1089.7C1353.4 1093.6 1354.1 1097.5 1354.8 1101.5C1355.5 1105.4 1356.2 1109.3 1356.9 1113.3C1357.6 1117.2 1358.3 1121.2 1359.0 1125.1C1359.8 1129.0 1360.5 1133.0 1361.2 1136.9C1362.0 1140.8 1362.8 1144.7 1363.5 1148.7C1364.3 1152.6 1365.2 1156.5 1366.0 1160.4C1366.9 1164.3 1367.7 1168.2 1368.6 1172.1C1369.6 1176.0 1370.5 1179.9 1371.4 1183.8C1372.4 1187.7 1373.3 1191.6 1374.3 1195.4C1375.3 1199.3 1376.2 1203.2 1377.2 1207.1C1378.2 1211.0 1379.2 1214.8 1380.2 1218.7C1381.2 1222.6 1382.1 1226.5 1383.1 1230.3C1384.1 1234.2 1385.1 1238.1 1386.0 1242.0C1387.0 1245.9 1387.9 1249.8 1388.8 1253.7C1389.7 1257.5 1390.6 1261.4 1391.5 1265.4C1392.4 1269.3 1393.2 1273.2 1394.1 1277.1C1394.9 1281.0 1395.8 1284.9 1396.6 1288.8C1397.4 1292.7 1398.2 1296.6 1399.0 1300.6C1399.9 1304.5 1400.7 1308.4 1401.5 1312.3C1402.3 1316.2 1403.1 1320.1 1403.9 1324.1C1404.7 1328.0 1405.5 1331.9 1406.4 1335.8C1407.2 1339.7 1408.0 1343.6 1408.9 1347.5C1409.8 1351.4 1410.6 1355.4 1411.6 1359.2C1412.5 1363.1 1413.5 1367.0 1414.8 1370.8C1416.0 1374.6 1417.6 1378.2 1419.1 1381.9C1420.5 1385.7 1422.1 1389.3 1423.5 1393.1C1425.0 1396.8 1426.3 1400.6 1427.7 1404.3C1429.1 1408.1 1430.5 1411.8 1431.8 1415.6C1433.2 1419.4 1434.5 1423.1 1435.8 1426.9C1437.2 1430.7 1438.5 1434.4 1439.9 1438.2C1441.2 1442.0 1442.5 1445.7 1443.9 1449.5C1445.2 1453.3 1446.6 1457.0 1448.0 1460.8C1449.3 1464.5 1450.7 1468.3 1452.2 1472.0C1453.6 1475.8 1455.0 1479.5 1456.6 1483.2C1458.2 1486.9 1459.9 1490.5 1461.7 1494.0C1463.5 1497.6 1465.5 1501.0 1467.5 1504.5C1469.4 1508.0 1471.3 1511.5 1473.2 1515.1C1475.1 1518.6 1477.0 1522.1 1478.8 1525.7C1480.7 1529.2 1482.4 1532.8 1484.4 1536.3C1486.3 1539.8 1488.4 1543.2 1490.6 1546.6C1492.7 1549.9 1494.6 1553.5 1497.2 1556.5C1499.7 1559.4 1502.7 1562.2 1506.0 1564.3C1509.2 1566.4 1513.0 1567.9 1516.8 1569.1C1520.6 1570.3 1524.6 1570.8 1528.5 1571.4C1532.5 1572.1 1536.5 1572.4 1540.4 1572.8C1544.4 1573.1 1548.4 1573.4 1552.4 1573.7C1556.4 1574.0 1560.4 1574.3 1564.4 1574.6C1568.4 1574.9 1572.4 1575.2 1576.3 1575.6C1580.3 1576.0 1584.3 1576.5 1588.2 1577.1C1592.2 1577.6 1596.1 1578.3 1600.1 1579.0C1604.0 1579.8 1607.9 1580.6 1611.8 1581.4C1615.7 1582.3 1619.6 1583.2 1623.5 1584.2C1627.4 1585.2 1631.2 1586.3 1635.1 1587.4C1638.9 1588.5 1642.7 1589.7 1646.5 1590.9C1650.3 1592.2 1654.1 1593.5 1657.9 1594.8C1661.6 1596.2 1665.4 1597.6 1669.1 1599.1C1672.8 1600.6 1676.5 1602.1 1680.2 1603.6C1683.9 1605.2 1687.6 1606.7 1691.2 1608.3C1694.9 1609.9 1698.5 1611.7 1702.1 1613.4C1705.8 1615.1 1709.4 1616.7 1713.0 1618.5C1716.5 1620.3 1720.1 1622.1 1723.6 1624.1C1727.1 1626.0 1730.6 1628.0 1734.0 1630.0C1737.5 1632.0 1740.9 1634.0 1744.4 1636.0C1747.9 1637.9 1751.4 1639.8 1755.0 1641.7C1758.5 1643.5 1762.1 1645.4 1765.7 1647.1C1769.3 1648.8 1773.0 1650.4 1776.7 1651.8C1780.4 1653.3 1784.2 1654.6 1788.0 1655.9C1791.8 1657.1 1795.6 1658.2 1799.5 1659.2C1803.4 1660.2 1807.3 1661.1 1811.2 1661.9C1815.1 1662.6 1819.1 1663.2 1823.1 1663.8C1827.0 1664.4 1831.0 1665.0 1834.9 1665.5C1838.9 1666.1 1842.9 1666.6 1846.8 1667.1C1850.8 1667.6 1854.8 1668.0 1858.7 1668.4C1862.7 1668.9 1866.7 1669.3 1870.7 1669.6C1874.7 1670.0 1878.7 1670.3 1882.7 1670.6C1886.6 1670.8 1890.6 1671.1 1894.6 1671.3C1898.6 1671.5 1902.6 1671.7 1906.6 1671.9C1910.6 1672.0 1914.6 1672.2 1918.6 1672.3C1922.6 1672.5 1926.6 1672.6 1930.6 1672.7C1934.6 1672.8 1938.6 1672.9 1942.6 1672.9C1946.6 1673.0 1951.2 1673.0 1954.4 1673.1C1957.5 1673.1 1960.3 1673.2 1961.5 1673.2"/>
<path class="cv" stroke="#00ff00" d="M417.8 48.2C419.8 48.2 425.8 48.2 429.8 48.2C433.8 48.2 437.8 48.2 441.8 48.2C445.8 48.2 449.8 48.2 453.8 48.2C457.8 48.2 461.8 48.2 465.8 48.2C469.8 48.2 473.8 48.2 477.8 48.2C481.8 48.2 485.8 48.2 489.8 48.2C493.8 48.2 497.8 48.2 501.8 48.2C505.8 48.2 509.8 48.2 513.8 48.2C517.8 48.2 521.8 48.2 525.8 48.2C529.8 48.2 533.8 48.2 537.8 48.2C541.8 48.2 545.8 48.2 549.8 48.2C553.8 48.2 557.8 48.2 561.8 48.2C565.8 48.2 569.8 48.2 573.8 48.2C577.8 48.2 581.8 48.2 585.8 48.2C589.8 48.2 593.8 48.2 597.8 48.2C601.8 48.2 605.8 48.2 609.8 48.2C613.8 48.2 617.8 48.2 621.8 48.2C625.8 48.2 629.8 48.2 633.8 48.2C637.8 48.2 641.8 48.2 645.8 48.2C649.8 48.2 653.8 48.2 657.8 48.2C661.8 48.2 665.8 48.2 669.8 48.2C673.8 48.2 677.8 48.2 681.8 48.2C685.8 48.2 689.8 48.2 693.8 48.2C697.8 48.2 701.8 48.2 705.8 48.2C709.8 48.2 713.8 48.2 717.8 48.2C721.8 48.2 725.8 48.2 729.8 48.2C733.8 48.2 737.8 48.2 741.8 48.2C745.8 48.2 749.8 48.2 753.8 48.2C757.8 48.2 761.8 48.2 765.8 48.2C769.8 48.2 773.8 48.2 777.8 48.2C781.8 48.2 785.8 48.2 789.8 48.2C793.8 48.2 797.8 48.2 801.8 48.2C805.8 48.2 809.8 48.2 813.8 48.2C817.8 48.3 821.8 48.3 825.8 48.3C829.8 48.3 833.8 48.3 837.8 48.4C841.8 48.4 845.8 48.5 849.8 48.5C853.8 48.6 857.8 48.7 861.8 48.9C865.8 49.1 869.8 49.4 873.8 49.7C877.7 50.1 881.7 50.6 885.7 51.2C889.6 51.8 893.6 52.5 897.5 53.3C901.4 54.2 905.2 55.2 909.1 56.3C912.9 57.4 916.7 58.7 920.5 60.0C924.3 61.3 928.0 62.7 931.7 64.2C935.4 65.7 939.1 67.3 942.7 69.0C946.3 70.7 949.9 72.4 953.5 74.3C957.0 76.1 960.5 78.1 963.9 80.2C967.3 82.3 970.6 84.5 973.8 86.9C977.0 89.3 980.1 91.9 983.1 94.5C986.1 97.2 989.0 100.0 991.7 102.9C994.4 105.8 997.0 108.9 999.4 112.1C1001.7 115.3 1003.9 118.7 1005.9 122.1C1007.9 125.6 1009.7 129.2 1011.4 132.8C1013.1 136.4 1014.8 140.0 1016.3 143.7C1017.9 147.4 1019.3 151.1 1020.7 154.9C1022.1 158.6 1023.3 162.4 1024.5 166.2C1025.7 170.0 1026.8 173.9 1027.9 177.7C1029.0 181.6 1030.0 185.5 1031.0 189.3C1032.1 193.2 1033.1 197.1 1034.1 200.9C1035.1 204.8 1036.2 208.7 1037.1 212.6C1038.0 216.4 1038.8 220.4 1039.6 224.3C1040.3 228.2 1041.0 232.2 1041.6 236.1C1042.2 240.1 1042.8 244.0 1043.3 248.0C1043.9 251.9 1044.4 255.9 1044.9 259.9C1045.5 263.8 1046.0 267.8 1046.5 271.8C1047.0 275.7 1047.6 279.7 1048.1 283.7C1048.6 287.6 1049.1 291.6 1049.6 295.6C1050.1 299.5 1050.6 303.5 1051.1 307.5C1051.6 311.4 1052.1 315.4 1052.6 319.4C1053.1 323.4 1053.6 327.3 1054.1 331.3C1054.6 335.3 1055.0 339.2 1055.5 343.2C1056.0 347.2 1056.5 351.1 1057.1 355.1C1057.6 359.1 1058.1 363.0 1058.6 367.0C1059.1 371.0 1059.6 374.9 1060.2 378.9C1060.7 382.9 1061.2 386.8 1061.7 390.8C1062.3 394.8 1062.8 398.7 1063.4 402.7C1063.9 406.7 1064.5 410.6 1065.0 414.6C1065.6 418.5 1066.1 422.5 1066.7 426.5C1067.2 430.4 1067.8 434.4 1068.4 438.3C1069.1 442.3 1069.7 446.2 1070.3 450.2C1071.0 454.1 1071.7 458.1 1072.4 462.0C1073.1 465.9 1073.8 469.9 1074.5 473.8C1075.2 477.7 1076.0 481.7 1076.7 485.6C1077.4 489.5 1078.2 493.5 1078.9 497.4C1079.7 501.3 1080.5 505.3 1081.3 509.2C1082.1 513.1 1082.9 517.0 1083.7 520.9C1084.5 524.8 1085.4 528.7 1086.3 532.6C1087.1 536.6 1088.0 540.5 1088.9 544.4C1089.8 548.3 1090.7 552.2 1091.5 556.1C1092.3 560.0 1093.1 563.9 1093.9 567.8C1094.7 571.7 1095.4 575.7 1096.4 579.6C1097.3 583.4 1098.4 587.3 1099.5 591.1C1100.6 595.0 1101.7 598.8 1102.9 602.6C1104.1 606.5 1105.3 610.3 1106.6 614.1C1107.8 617.9 1109.1 621.7 1110.3 625.5C1111.5 629.3 1112.7 633.1 1113.8 637.0C1114.9 640.8 1115.9 644.7 1117.0 648.5C1118.0 652.4 1118.9 656.3 1119.9 660.2C1120.9 664.0 1121.8 667.9 1122.8 671.8C1123.8 675.7 1124.7 679.6 1125.8 683.4C1126.9 687.3 1128.0 691.1 1129.2 694.9C1130.4 698.7 1131.8 702.5 1133.2 706.2C1134.5 710.0 1136.0 713.7 1137.5 717.4C1139.0 721.2 1140.4 724.9 1142.0 728.6C1143.5 732.3 1145.0 736.0 1146.6 739.6C1148.2 743.3 1149.8 747.0 1151.6 750.5C1153.4 754.1 1155.4 757.6 1157.5 761.0C1159.5 764.4 1161.6 767.9 1163.9 771.1C1166.3 774.3 1168.8 777.4 1171.6 780.3C1174.3 783.1 1177.5 785.6 1180.6 788.1C1183.7 790.6 1186.9 793.0 1190.2 795.3C1193.5 797.6 1196.9 799.7 1200.2 801.9C1203.5 804.1 1206.9 806.3 1210.2 808.5C1213.6 810.7 1217.0 812.8 1220.3 815.1C1223.6 817.3 1226.9 819.5 1230.1 821.9C1233.3 824.3 1236.4 826.8 1239.5 829.4C1242.5 832.0 1245.7 834.5 1248.5 837.3C1251.3 840.1 1253.8 843.2 1256.2 846.4C1258.6 849.6 1260.6 853.1 1262.9 856.3C1265.2 859.6 1267.7 862.7 1270.1 865.9C1272.4 869.2 1274.8 872.4 1276.9 875.7C1279.0 879.1 1280.8 882.7 1282.7 886.2C1284.6 889.8 1286.4 893.3 1288.1 896.9C1289.8 900.6 1291.4 904.2 1292.9 907.9C1294.5 911.6 1295.9 915.3 1297.3 919.1C1298.7 922.8 1300.1 926.6 1301.4 930.4C1302.7 934.2 1303.9 938.0 1305.1 941.8C1306.3 945.6 1307.4 949.4 1308.5 953.3C1309.7 957.1 1310.8 961.0 1311.9 964.8C1313.0 968.7 1314.0 972.5 1315.1 976.4C1316.2 980.2 1317.3 984.1 1318.4 987.9C1319.5 991.8 1320.6 995.6 1321.7 999.4C1322.8 1003.3 1324.0 1007.1 1325.2 1010.9C1326.3 1014.8 1327.5 1018.6 1328.6 1022.4C1329.7 1026.3 1330.9 1030.1 1331.9 1033.9C1333.0 1037.8 1334.1 1041.7 1335.1 1045.5C1336.1 1049.4 1337.1 1053.3 1338.1 1057.1C1339.0 1061.0 1339.9 1064.9 1340.8 1068.8C1341.7 1072.7 1342.5 1076.6 1343.4 1080.6C1344.2 1084.5 1345.0 1088.4 1345.8 1092.3C1346.6 1096.2 1347.4 1100.2 1348.2 1104.1C1348.9 1108.0 1349.7 1111.9 1350.5 1115.8C1351.3 1119.8 1352.0 1123.7 1352.8 1127.6C1353.6 1131.5 1354.4 1135.5 1355.2 1139.4C1356.0 1143.3 1356.8 1147.2 1357.6 1151.1C1358.4 1155.0 1359.3 1159.0 1360.1 1162.9C1361.0 1166.8 1361.9 1170.7 1362.7 1174.6C1363.6 1178.5 1364.5 1182.4 1365.4 1186.3C1366.2 1190.2 1367.1 1194.1 1368.0 1198.0C1368.9 1201.9 1369.8 1205.8 1370.7 1209.7C1371.6 1213.6 1372.5 1217.5 1373.4 1221.4C1374.3 1225.3 1375.2 1229.2 1376.1 1233.1C1377.0 1237.0 1377.9 1240.9 1378.8 1244.8C1379.7 1248.7 1380.5 1252.6 1381.4 1256.5C1382.3 1260.4 1383.1 1264.3 1384.0 1268.2C1384.8 1272.1 1385.7 1276.0 1386.5 1279.9C1387.4 1283.8 1388.2 1287.7 1389.0 1291.7C1389.9 1295.6 1390.7 1299.5 1391.5 1303.4C1392.4 1307.3 1393.2 1311.2 1394.0 1315.1C1394.9 1319.0 1395.7 1323.0 1396.5 1326.9C1397.4 1330.8 1398.2 1334.7 1399.0 1338.6C1399.9 1342.5 1400.7 1346.4 1401.6 1350.3C1402.5 1354.2 1403.3 1358.1 1404.3 1362.0C1405.3 1365.9 1406.3 1369.8 1407.5 1373.6C1408.6 1377.4 1410.1 1381.1 1411.4 1384.9C1412.7 1388.7 1414.1 1392.5 1415.4 1396.2C1416.7 1400.0 1418.1 1403.8 1419.4 1407.5C1420.7 1411.3 1422.0 1415.1 1423.3 1418.9C1424.5 1422.7 1425.8 1426.5 1427.1 1430.3C1428.4 1434.0 1429.7 1437.8 1431.1 1441.6C1432.4 1445.4 1433.7 1449.1 1435.1 1452.9C1436.4 1456.7 1437.8 1460.4 1439.2 1464.2C1440.6 1467.9 1442.0 1471.7 1443.5 1475.4C1444.9 1479.1 1446.4 1482.8 1448.0 1486.5C1449.6 1490.2 1451.3 1493.8 1453.1 1497.3C1454.9 1500.9 1456.8 1504.4 1458.7 1508.0C1460.6 1511.5 1462.5 1515.0 1464.5 1518.5C1466.5 1521.9 1468.5 1525.4 1470.6 1528.8C1472.7 1532.2 1474.9 1535.5 1477.3 1538.7C1479.7 1542.0 1482.2 1545.0 1484.8 1548.1C1487.4 1551.1 1490.1 1554.1 1492.8 1557.0C1495.5 1560.0 1498.1 1563.0 1501.0 1565.8C1503.9 1568.5 1506.8 1571.3 1510.1 1573.5C1513.3 1575.8 1516.8 1577.8 1520.4 1579.3C1524.1 1580.8 1528.0 1581.7 1531.9 1582.6C1535.8 1583.5 1539.7 1584.1 1543.7 1584.6C1547.7 1585.1 1551.7 1585.2 1555.7 1585.5C1559.6 1585.8 1563.6 1586.1 1567.6 1586.4C1571.6 1586.7 1575.6 1587.0 1579.6 1587.4C1583.6 1587.8 1587.5 1588.2 1591.5 1588.7C1595.5 1589.3 1599.4 1589.9 1603.4 1590.5C1607.3 1591.1 1611.3 1591.8 1615.2 1592.6C1619.1 1593.4 1623.0 1594.2 1626.9 1595.2C1630.8 1596.1 1634.7 1597.1 1638.5 1598.1C1642.4 1599.1 1646.3 1600.2 1650.1 1601.4C1653.9 1602.5 1657.8 1603.6 1661.6 1604.8C1665.4 1606.0 1669.2 1607.3 1673.0 1608.5C1676.8 1609.8 1680.6 1611.1 1684.3 1612.5C1688.1 1613.9 1691.7 1615.5 1695.4 1617.0C1699.1 1618.6 1702.7 1620.2 1706.4 1621.8C1710.1 1623.4 1713.8 1624.8 1717.4 1626.5C1721.1 1628.1 1724.7 1629.9 1728.2 1631.7C1731.8 1633.4 1735.3 1635.4 1738.9 1637.1C1742.5 1638.9 1746.1 1640.7 1749.7 1642.4C1753.4 1644.0 1757.0 1645.6 1760.8 1647.1C1764.5 1648.5 1768.3 1649.8 1772.1 1650.9C1775.9 1652.1 1779.8 1652.9 1783.7 1653.8C1787.6 1654.6 1791.6 1655.2 1795.5 1656.0C1799.5 1656.8 1803.4 1657.6 1807.3 1658.4C1811.2 1659.1 1815.1 1659.9 1819.1 1660.5C1823.0 1661.1 1827.0 1661.5 1831.0 1662.0C1835.0 1662.4 1838.9 1662.8 1842.9 1663.2C1846.9 1663.6 1850.9 1664.0 1854.9 1664.4C1858.9 1664.7 1862.8 1665.1 1866.8 1665.4C1870.8 1665.7 1874.8 1666.0 1878.8 1666.2C1882.8 1666.3 1886.8 1666.4 1890.8 1666.6C1894.8 1666.8 1898.8 1666.9 1902.8 1667.2C1906.8 1667.4 1910.8 1667.8 1914.7 1668.0C1918.7 1668.3 1922.7 1668.4 1926.7 1668.6C1930.7 1668.8 1934.7 1669.0 1938.7 1669.2C1942.7 1669.3 1946.8 1669.5 1950.7 1669.6C1954.5 1669.8 1959.9 1670.0 1961.8 1670.1"/>
</g>
<g id="axes">
<path class="ax" d="M362.0 44.7 V1789.6"/>
<path class="ax" d="M358.5 1725.5 H2147.5"/>
<path class="ax" d="M293.8 1709.7 H361.8M327.4 1626.6 H361.8M293.8 1543.6 H361.8M327.4 1460.5 H361.8M293.8 1377.4 H361.8M327.4 1294.3 H361.8M293.8 1211.2 H361.8M327.4 1128.2 H361.8M293.8 1045.1 H361.8M327.4 962.0 H361.8M293.8 879.0 H361.8M327.4 795.9 H361.8M293.8 712.8 H361.8M327.4 629.7 H361.8M293.8 546.7 H361.8M327.4 463.6 H361.8M293.8 380.5 H361.8M327.4 297.4 H361.8M293.8 214.4 H361.8M327.4 131.3 H361.8M293.8 48.2 H361.8M450.9 1725.5 V1758.5M540.0 1725.5 V1789.6M629.1 1725.5 V1758.5M718.2 1725.5 V1789.6M807.3 1725.5 V1758.5M896.4 1725.5 V1789.6M985.5 1725.5 V1758.5M1074.6 1725.5 V1789.6M1163.7 1725.5 V1758.5M1252.8 1725.5 V1789.6M1341.9 1725.5 V1758.5M1431.0 1725.5 V1789.6M1520.1 1725.5 V1758.5M1609.2 1725.5 V1789.6M1698.3 1725.5 V1758.5M1787.4 1725.5 V1789.6M1876.5 1725.5 V1758.5M1965.6 1725.5 V1789.6M2054.7 1725.5 V1758.5M2143.8 1725.5 V1789.6"/>
</g>
<g id="ylabels" class="tk" text-anchor="end">
<text x="265.8" y="69.0">100</text>
<text x="265.8" y="235.2">90</text>
<text x="265.8" y="401.3">80</text>
<text x="265.8" y="567.5">70</text>
<text x="265.8" y="733.6">60</text>
<text x="265.8" y="899.8">50</text>
<text x="265.8" y="1065.9">40</text>
<text x="265.8" y="1232.0">30</text>
<text x="265.8" y="1398.2">20</text>
<text x="265.8" y="1564.4">10</text>
<text x="265.8" y="1730.5">0</text>
</g>
<g id="xlabels" class="tk" text-anchor="middle">
<text x="362.7" y="1870.6">0</text>
<text x="540.9" y="1870.6">100</text>
<text x="719.1" y="1870.6">200</text>
<text x="897.3" y="1870.6">300</text>
<text x="1075.5" y="1870.6">400</text>
<text x="1253.7" y="1870.6">500</text>
<text x="1431.9" y="1870.6">600</text>
<text x="1610.1" y="1870.6">700</text>
<text x="1788.3" y="1870.6">800</text>
<text x="1966.5" y="1870.6">900</text>
<text x="2144.7" y="1870.6">1000</text>
</g>
<g id="xtitle" class="ti">
<text x="929.5" y="1971.5" textLength="458" lengthAdjust="spacingAndGlyphs">Temperature</text>
<text x="1427.5" y="1971.5" textLength="146" lengthAdjust="spacingAndGlyphs">(°C)</text>
</g>
<g id="ytitle" class="ti" transform="translate(103.5 0) rotate(-90)">
<text x="-1148" y="0" textLength="236" lengthAdjust="spacingAndGlyphs">Weight</text>
<text x="-876" y="0" textLength="147" lengthAdjust="spacingAndGlyphs">Loss</text>
<text class="tp" x="-691" y="0">(</text>
<text class="tp" x="-648" y="0">%</text>
<text class="tp" x="-552" y="0">)</text>
</g>
<g id="legend">
<rect x="1452" y="48" width="851" height="735.5" rx="40" ry="40" fill="#fff" stroke="#000" stroke-width="6.5"/>
<text class="lg" x="1491" y="126.3" textLength="772" lengthAdjust="spacingAndGlyphs">TGA AIR cured up to 200°C</text>
<path class="cv" stroke="#000000" d="M1474 177.3 H1788.7"/>
<text class="lg" x="1817.8" y="197.2" textLength="128.5" lengthAdjust="spacing">TBD</text>
<path class="cv" stroke="#ff0000" d="M1474 258.0 H1788.7"/>
<text class="lg" x="1817.8" y="277.9" textLength="457.3" lengthAdjust="spacing">TBD + 0.05%EG</text>
<path class="cv" stroke="#0a6231" d="M1474 338.7 H1788.7"/>
<text class="lg" x="1817.8" y="358.6" textLength="457.3" lengthAdjust="spacing">TBD + 0.64%EG</text>
<path class="cv" stroke="#ff6600" d="M1474 419.5 H1788.7"/>
<text class="lg" x="1817.8" y="439.4" textLength="426.1" lengthAdjust="spacing">TBD + 1.5%EG</text>
<path class="cv" stroke="#9900cc" d="M1474 500.2 H1788.7"/>
<text class="lg" x="1817.8" y="520.1" textLength="379.2" lengthAdjust="spacing">TBD + 3%EG</text>
<path class="cv" stroke="#999999" d="M1474 580.9 H1788.7"/>
<text class="lg" x="1817.8" y="600.8" textLength="379.2" lengthAdjust="spacing">TBD + 5%EG</text>
<path class="cv" stroke="#ff6666" d="M1474 661.6 H1788.7"/>
<text class="lg" x="1817.8" y="681.5" textLength="379.2" lengthAdjust="spacing">TBD + 6%EG</text>
<path class="cv" stroke="#00ff00" d="M1474 742.3 H1788.7"/>
<text class="lg" x="1817.8" y="762.2" textLength="426.1" lengthAdjust="spacing">TBD + 6.5%EG</text>
</g>
</g>
</svg>
</body></html>
